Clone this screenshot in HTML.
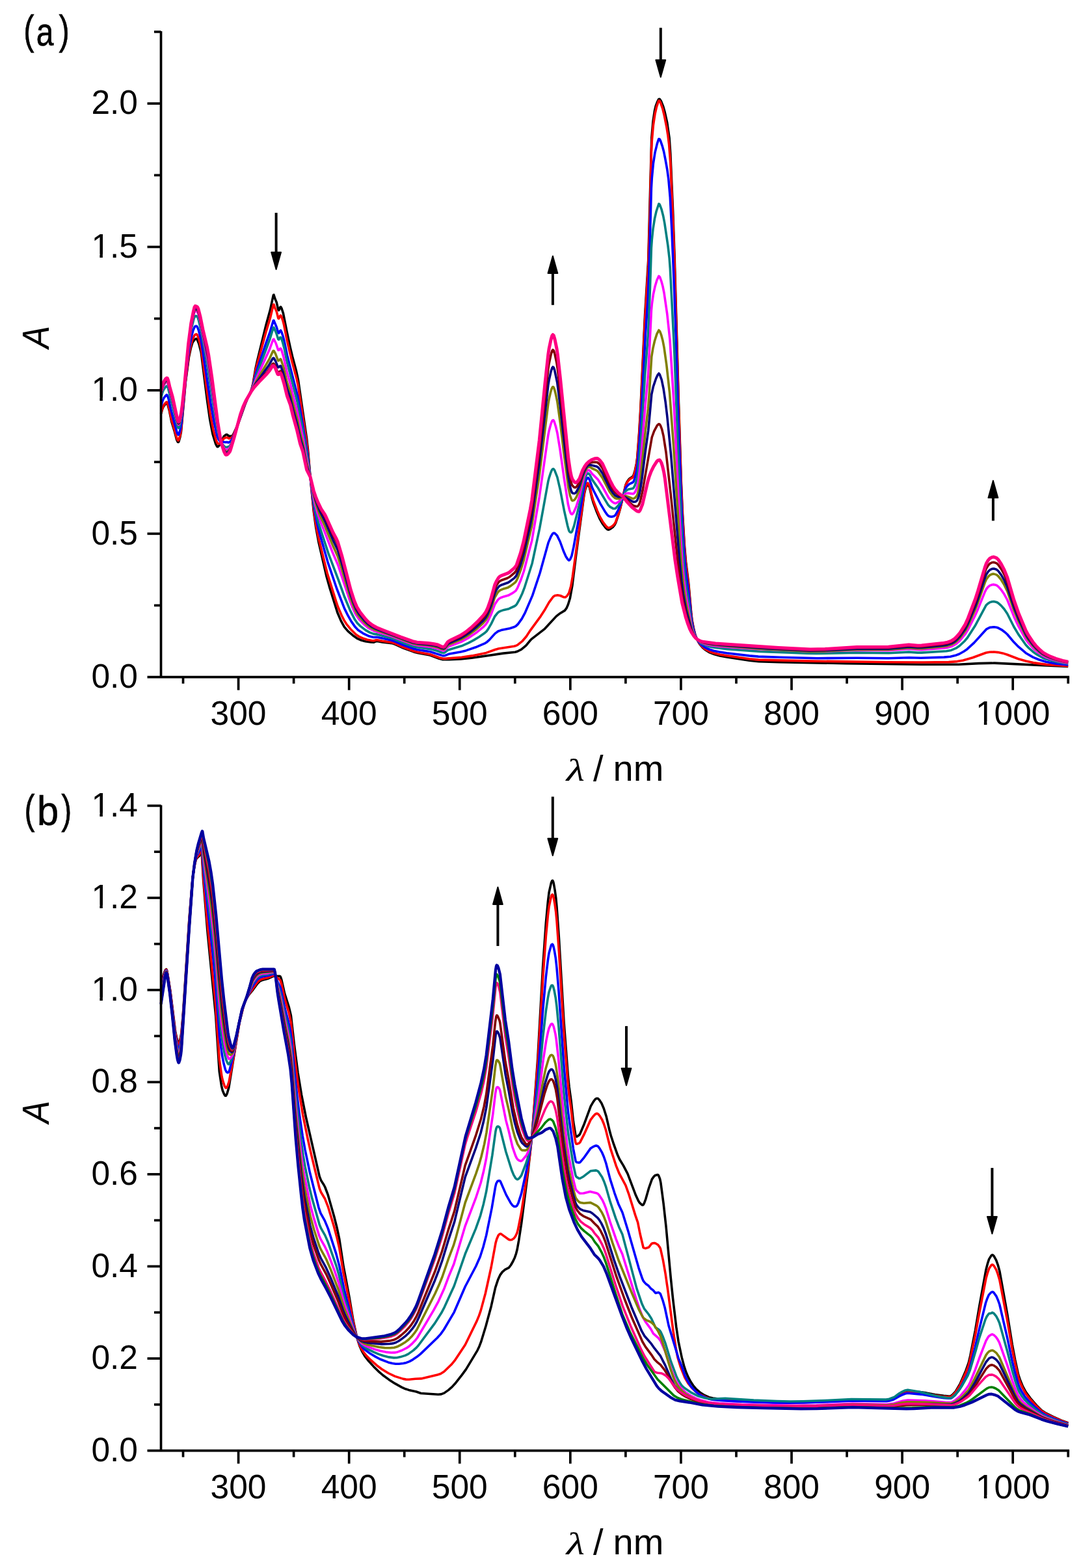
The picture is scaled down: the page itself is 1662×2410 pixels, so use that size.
<!DOCTYPE html>
<html><head><meta charset="utf-8"><style>
html,body{margin:0;padding:0;background:#fff;}
svg{display:block;}
.tl{font-family:"Liberation Sans", Arial, sans-serif;font-size:51.5px;fill:#000;}
.at{font-family:"Liberation Sans", Arial, sans-serif;font-size:56px;fill:#000;}
.lam{font-family:"Liberation Serif",serif;font-style:italic;font-size:56px;fill:#000;}
.pl{font-family:"Liberation Sans",sans-serif;font-size:60px;fill:#000;stroke:#000;stroke-width:0.6px;}
.yt{font-family:"Liberation Sans", Arial, sans-serif;font-size:56px;font-style:italic;fill:#000;}
</style></head><body>
<svg width="1662" height="2410" viewBox="0 0 1662 2410">
<rect width="1662" height="2410" fill="#fff"/>
<path d="M247.5,636.0L249.6,628.9L251.3,624.8L254.7,620.5L256.0,619.8L256.9,620.0L258.1,622.9L260.3,630.8L263.7,648.0L268.3,663.0L271.7,676.0L273.4,679.5L274.3,679.5L275.1,678.1L276.8,672.1L278.5,663.3L285.3,587.4L290.4,549.2L293.4,535.1L296.0,526.5L299.0,522.3L300.7,520.9L301.9,520.6L303.2,521.9L305.8,528.3L309.2,541.7L318.5,615.3L322.8,645.4L327.0,667.1L331.7,682.5L333.8,686.5L334.7,686.7L335.9,686.0L339.8,680.8L344.0,670.9L347.4,668.0L349.1,668.0L352.1,670.4L356.4,670.4L357.2,670.0L358.9,667.2L366.1,651.6L377.2,620.5L380.6,612.2L384.8,603.6L387.0,597.6L389.1,589.1L392.9,566.4L395.5,554.6L409.1,499.2L415.5,476.1L420.1,454.5L420.6,453.3L421.0,453.2L422.7,458.8L425.2,464.6L427.4,474.4L428.2,476.8L428.6,476.9L429.1,476.3L430.8,472.2L431.6,471.7L432.9,473.7L435.4,481.4L441.0,509.7L446.1,533.3L449.5,547.7L455.4,569.8L458.4,583.6L471.6,674.2L473.3,689.1L476.7,729.0L482.2,785.6L485.6,810.1L489.9,833.3L501.8,885.2L506.5,902.1L518.8,941.5L524.3,954.4L529.4,963.6L535.0,970.1L543.5,977.3L549.8,981.7L555.4,984.0L561.7,985.7L570.2,986.9L574.9,987.1L578.3,985.7L580.0,985.6L587.7,986.9L602.6,988.6L608.1,990.5L620.8,996.3L636.2,1001.9L643.4,1003.8L661.2,1007.0L675.3,1012.3L680.8,1013.7L690.6,1013.7L708.4,1012.9L725.0,1011.3L773.9,1004.1L792.2,1002.3L796.0,1001.0L801.6,998.1L808.8,992.2L814.8,984.8L817.7,981.8L837.7,966.3L855.1,947.4L861.1,942.7L868.3,938.4L870.9,934.9L873.4,929.3L876.4,919.5L879.8,900.5L885.8,852.3L898.1,760.0L899.8,752.4L902.3,745.1L903.2,744.1L904.0,744.3L906.6,749.8L910.0,764.9L912.1,772.3L917.7,787.3L921.9,797.1L926.2,804.7L931.3,811.4L933.8,813.7L935.1,814.1L936.4,814.0L938.9,812.7L942.3,810.0L944.9,806.8L946.6,803.7L950.8,791.2L953.8,780.8L961.9,745.4L964.0,740.8L966.6,737.0L968.3,735.3L971.7,733.3L973.4,731.6L974.6,728.8L976.3,722.9L978.5,712.5L979.7,703.7L982.7,664.5L984.8,628.6L991.6,483.9L996.7,400.7L1001.8,212.0L1004.0,186.6L1006.5,170.1L1008.2,162.8L1010.4,157.1L1012.5,152.9L1013.3,152.2L1014.2,152.2L1016.3,155.3L1019.7,163.7L1022.3,173.1L1025.7,188.4L1029.1,212.0L1030.8,236.4L1034.6,323.6L1037.1,394.3L1043.1,607.6L1047.3,740.6L1049.5,790.6L1052.5,840.0L1054.6,864.0L1058.8,897.7L1062.7,941.7L1063.9,952.5L1066.5,966.3L1069.0,976.1L1072.0,983.5L1075.8,990.0L1080.1,995.1L1083.9,998.5L1091.1,1002.9L1098.0,1005.6L1106.9,1007.9L1117.9,1009.9L1152.4,1015.2L1166.8,1016.8L1198.3,1017.8L1300.4,1019.6L1416.9,1021.2L1473.8,1021.3L1504.5,1019.6L1529.1,1019.1L1642.2,1024.5" fill="none" stroke="#000000" stroke-width="3.6" stroke-linejoin="round"/>
<path d="M247.5,635.0L250.1,626.4L251.8,622.7L255.2,618.4L256.4,617.9L257.3,618.7L260.3,628.6L263.7,645.3L268.3,660.3L271.7,673.1L273.4,676.8L274.3,676.9L275.1,675.5L276.8,669.6L278.5,660.7L285.3,585.9L290.4,546.0L293.4,530.7L296.0,521.3L299.0,515.6L300.2,514.2L301.9,513.6L302.8,514.2L303.6,515.7L305.8,521.3L309.2,534.8L323.2,635.9L327.9,660.1L332.5,677.3L334.2,681.0L335.5,681.9L336.8,681.9L339.8,680.5L343.6,674.5L345.7,673.1L348.7,672.2L352.1,674.0L354.2,673.5L356.8,672.2L358.5,669.5L364.9,654.6L376.3,622.2L380.2,612.9L384.8,603.6L387.0,598.0L389.1,590.3L392.9,570.0L395.5,559.5L409.1,509.6L415.5,488.6L420.1,469.1L420.6,468.0L421.0,468.0L422.7,473.1L425.2,478.8L427.8,489.0L428.2,489.7L428.6,489.8L430.8,485.4L431.6,484.9L432.9,487.0L435.0,493.1L436.7,499.8L441.0,521.7L444.0,534.8L449.1,556.4L455.9,581.4L458.4,593.2L472.4,685.7L480.1,763.3L483.1,789.0L486.5,810.4L490.3,829.3L503.1,881.0L516.7,924.4L519.6,932.8L525.2,945.8L529.0,953.4L532.8,959.3L539.2,967.2L547.3,975.2L552.0,978.5L559.2,981.6L564.7,983.2L571.5,984.5L574.9,984.8L578.3,983.8L580.0,983.7L587.7,985.2L602.6,987.4L608.1,989.3L620.8,995.0L636.2,1000.7L643.4,1002.6L661.2,1005.7L675.7,1011.0L680.8,1012.3L683.4,1012.4L709.7,1010.2L725.9,1007.9L747.6,1003.4L761.2,998.5L766.3,997.0L790.5,993.2L793.1,992.5L795.6,991.3L802.8,985.7L809.2,978.3L815.2,969.1L831.3,947.1L837.3,937.8L844.1,925.9L850.5,917.2L853.0,915.6L857.3,914.8L861.5,915.5L866.2,917.7L868.8,918.0L870.0,917.5L871.7,916.0L874.7,911.4L877.7,901.2L880.2,887.1L898.1,757.7L899.8,750.4L902.3,743.4L903.2,742.4L904.0,742.5L906.6,747.7L910.0,762.1L912.1,769.1L918.1,784.6L922.3,794.2L926.6,801.7L931.7,808.6L934.2,810.9L935.5,811.3L936.8,811.2L939.3,810.0L942.3,808.0L944.9,805.1L946.6,802.2L950.8,790.2L953.8,780.2L961.9,746.1L964.0,741.8L966.6,738.2L968.7,736.2L972.1,734.4L973.4,733.1L974.6,730.4L976.3,724.7L978.5,714.7L979.7,706.1L982.7,668.2L984.8,633.2L991.6,491.6L996.7,409.4L999.3,323.8L1001.4,232.9L1002.3,216.1L1004.4,192.3L1007.0,175.2L1009.5,164.2L1012.1,156.5L1012.9,154.7L1013.3,154.7L1014.2,155.3L1015.5,157.6L1018.9,167.5L1021.4,177.8L1024.8,194.9L1026.9,208.0L1028.6,221.8L1030.8,250.7L1034.6,337.1L1037.1,406.8L1043.1,615.8L1047.3,746.1L1049.5,795.5L1052.5,844.2L1054.6,867.9L1058.8,901.2L1062.2,939.2L1063.9,953.9L1066.5,967.1L1069.0,976.4L1072.0,983.4L1075.4,989.0L1079.7,993.9L1083.9,997.4L1090.7,1001.2L1097.5,1003.8L1106.5,1005.9L1117.5,1007.8L1152.0,1012.7L1166.4,1014.1L1246.4,1016.1L1363.7,1017.7L1419.0,1018.0L1458.5,1017.6L1471.7,1016.6L1480.7,1015.0L1495.5,1010.7L1515.9,1003.2L1521.5,1002.3L1527.9,1002.0L1534.2,1002.6L1543.6,1004.6L1548.7,1006.2L1565.7,1012.7L1577.2,1016.1L1588.7,1018.6L1608.6,1021.4L1642.2,1023.7" fill="none" stroke="#FF0000" stroke-width="3.6" stroke-linejoin="round"/>
<path d="M247.5,624.6L250.1,615.8L251.8,611.9L255.2,607.5L256.4,606.9L257.3,607.6L259.0,612.6L262.8,629.8L272.2,664.9L273.9,668.3L274.7,668.1L275.1,667.4L277.3,659.8L279.0,649.8L285.8,578.2L289.2,548.1L291.3,533.3L294.3,517.5L296.8,508.1L299.4,502.3L300.7,501.3L302.4,501.4L303.6,503.0L305.3,507.4L309.2,522.6L324.0,620.0L328.7,646.5L333.8,669.7L335.9,675.0L338.1,678.2L339.8,680.0L340.6,680.2L343.6,679.3L346.2,679.8L349.1,679.6L351.3,680.2L353.4,679.3L356.4,676.0L358.5,671.8L365.3,653.4L374.6,625.7L379.3,614.5L384.8,603.7L387.0,598.7L389.1,592.2L392.9,576.1L395.5,567.6L409.1,527.1L415.0,510.7L420.1,493.3L420.6,492.5L421.0,492.6L425.2,502.8L427.8,511.5L428.6,512.0L430.8,508.3L431.6,507.9L432.9,510.3L435.0,516.5L437.2,525.0L441.4,545.7L457.6,608.6L465.2,651.2L472.9,698.4L480.9,765.7L483.1,780.9L486.5,799.3L490.3,815.9L503.9,863.8L517.5,904.0L529.4,934.9L535.0,946.2L540.1,955.1L546.0,963.6L550.7,968.5L558.3,973.6L566.4,977.4L574.1,979.5L579.6,979.3L601.7,984.0L607.7,986.0L620.4,991.5L636.2,997.2L643.0,998.8L661.7,1001.7L680.8,1007.9L683.4,1007.8L689.7,1005.3L708.0,1002.0L716.5,999.9L731.4,994.8L745.9,988.6L748.8,986.7L752.2,983.6L761.2,973.6L765.8,970.3L770.5,968.6L784.1,965.7L790.1,963.8L793.1,962.4L796.5,959.1L802.4,950.9L807.5,941.3L818.6,915.4L830.1,880.7L843.2,833.6L847.1,824.5L849.6,820.3L850.9,819.4L852.2,819.4L853.9,820.4L856.4,822.9L861.1,832.5L866.6,847.6L870.0,855.2L872.6,859.3L874.3,861.1L875.6,860.9L876.8,859.3L879.0,854.2L881.9,840.9L890.9,791.4L898.1,747.5L900.6,739.0L902.8,734.7L903.6,734.2L904.5,734.5L906.6,737.6L910.4,749.2L912.6,754.0L922.8,773.8L930.8,787.3L933.4,790.9L935.5,793.0L937.6,793.9L940.6,794.2L943.6,793.6L946.1,791.8L950.4,784.2L954.6,773.5L961.9,750.4L964.0,747.3L966.6,744.7L968.3,743.6L972.9,741.5L974.2,739.8L975.5,736.8L978.0,727.5L979.7,718.3L982.7,685.5L985.3,646.9L992.1,518.8L996.3,456.6L998.0,414.1L1001.4,289.1L1002.3,273.7L1004.4,251.3L1007.0,234.7L1010.4,220.6L1012.5,214.4L1012.9,213.5L1013.3,213.5L1014.2,214.0L1015.5,216.3L1018.4,224.9L1020.6,233.0L1023.1,245.6L1025.7,260.1L1027.8,275.3L1030.3,303.6L1032.9,354.7L1036.7,446.5L1039.3,519.5L1043.1,649.3L1047.3,767.8L1049.5,813.1L1052.5,857.8L1054.6,879.8L1058.8,910.8L1062.2,944.3L1063.9,957.2L1066.1,967.2L1068.6,976.0L1071.2,981.8L1074.6,987.1L1078.8,991.5L1083.5,994.8L1090.3,998.0L1097.1,1000.2L1106.0,1002.0L1117.1,1003.7L1152.0,1007.9L1166.0,1009.1L1199.2,1010.3L1256.6,1011.7L1317.8,1011.3L1365.8,1011.7L1397.7,1010.8L1415.6,1011.3L1451.3,1010.1L1461.1,1009.2L1468.3,1007.6L1474.7,1005.3L1481.9,1001.3L1487.0,997.7L1497.7,987.9L1516.4,967.2L1521.9,964.4L1528.3,963.7L1532.1,964.2L1535.1,965.3L1539.8,967.8L1544.4,971.2L1548.7,975.0L1558.9,987.1L1565.7,993.9L1577.2,1003.7L1588.2,1010.1L1597.6,1014.0L1608.2,1017.2L1623.5,1019.9L1642.2,1022.0" fill="none" stroke="#0000FF" stroke-width="3.6" stroke-linejoin="round"/>
<path d="M247.5,611.8L249.6,603.9L251.3,599.4L254.7,594.4L256.4,593.3L257.3,593.7L258.6,597.2L265.8,625.7L272.6,654.5L273.4,656.8L274.3,657.9L274.7,657.9L275.6,656.5L278.1,646.2L279.4,637.4L288.7,544.2L292.6,515.3L294.7,503.5L298.1,489.6L299.8,485.9L301.1,485.5L302.4,486.0L304.1,488.2L305.3,491.9L309.6,510.2L319.8,568.0L330.4,637.9L333.4,655.7L335.5,665.7L338.9,677.2L341.0,681.6L345.3,686.4L346.6,687.3L347.9,687.5L351.7,686.5L353.4,685.0L354.7,683.1L358.1,675.2L370.8,635.4L374.6,624.8L378.9,615.0L385.3,602.9L388.2,596.0L393.8,578.0L414.6,522.2L420.1,504.1L420.6,503.4L421.0,503.4L424.8,511.9L427.8,521.5L428.6,521.9L430.8,518.6L431.6,518.5L432.5,519.9L434.6,526.2L437.2,536.0L441.4,556.6L457.1,617.5L465.6,661.9L473.3,706.6L482.6,773.1L485.6,788.1L489.5,803.5L504.8,850.4L520.5,891.9L529.8,917.8L538.4,938.4L545.6,952.3L549.4,957.8L554.1,962.4L562.2,968.6L568.5,972.1L574.5,974.4L579.6,974.9L602.6,981.0L620.4,988.2L632.3,992.5L638.3,994.3L662.1,997.6L672.7,1000.5L679.1,1003.0L682.1,1003.5L683.8,1002.9L688.0,999.5L689.7,998.7L711.4,992.2L720.4,988.2L728.4,983.9L736.5,979.0L745.4,972.8L748.0,970.4L750.5,966.9L755.2,958.9L760.7,947.5L765.0,942.2L767.1,940.4L769.7,939.1L774.8,937.4L782.4,935.7L791.4,931.5L793.5,929.8L794.8,928.2L799.4,919.8L802.8,912.5L806.2,903.7L818.2,865.7L829.6,812.4L842.8,739.8L844.1,734.6L846.6,726.9L848.3,722.8L849.6,721.0L850.9,720.6L852.6,722.6L856.8,733.3L861.1,751.9L867.5,785.2L872.6,808.0L874.7,815.4L876.0,817.4L877.3,818.3L878.5,818.1L879.4,817.1L882.4,808.9L890.4,776.9L898.1,739.1L900.6,731.9L901.9,729.4L903.2,727.8L904.0,727.5L904.9,727.8L907.0,729.9L910.4,737.1L918.9,749.2L934.7,775.7L937.6,778.8L942.7,781.6L944.9,781.7L946.6,781.2L951.2,776.1L954.2,771.1L960.6,756.9L961.9,754.9L964.4,753.0L966.6,751.9L972.9,750.8L974.2,749.7L975.9,746.7L978.9,737.9L980.6,728.1L983.1,703.8L985.3,677.4L991.6,577.1L996.7,511.0L999.3,447.3L1001.4,381.1L1002.3,368.3L1004.0,352.0L1006.5,336.1L1009.1,324.7L1012.9,313.3L1013.8,313.8L1014.6,315.1L1017.2,322.2L1019.7,332.0L1021.8,343.0L1026.9,377.5L1029.1,396.5L1030.3,412.5L1036.7,537.7L1043.1,705.9L1047.3,803.8L1049.5,842.0L1052.0,875.3L1054.6,898.8L1058.8,926.0L1063.5,960.3L1065.6,968.9L1067.8,975.3L1069.9,979.8L1073.3,984.6L1077.1,988.1L1082.2,990.9L1089.4,993.4L1096.7,995.0L1118.4,997.6L1169.4,1001.4L1217.0,1003.1L1240.8,1004.3L1254.9,1004.5L1316.9,1003.1L1366.3,1003.7L1397.3,1002.1L1410.9,1003.1L1416.9,1003.1L1455.1,1000.8L1462.4,999.4L1469.6,996.4L1475.1,992.7L1483.2,985.2L1487.5,980.0L1498.9,962.3L1515.9,930.6L1518.5,927.9L1521.5,925.9L1525.3,924.7L1527.9,924.5L1532.1,925.4L1534.7,926.9L1539.3,930.9L1544.0,936.3L1548.7,943.2L1558.9,963.5L1565.7,974.9L1577.2,991.2L1581.0,995.3L1588.2,1001.7L1592.5,1004.9L1597.6,1008.0L1603.5,1011.2L1608.2,1013.0L1623.5,1017.1L1642.2,1020.2" fill="none" stroke="#008080" stroke-width="3.6" stroke-linejoin="round"/>
<path d="M247.5,605.7L249.6,597.7L251.3,593.1L254.7,588.0L256.4,586.8L257.3,587.1L258.6,590.6L265.4,617.0L272.6,649.0L274.3,652.9L274.7,653.0L275.6,651.8L278.1,641.7L279.4,633.4L282.8,602.3L289.2,536.5L293.0,507.4L295.1,495.6L298.5,480.9L299.8,478.2L301.1,478.0L302.4,478.6L303.6,479.8L304.5,481.6L307.9,494.5L318.9,551.1L322.3,572.2L333.4,649.2L337.2,669.2L340.2,680.4L344.9,689.3L346.2,690.9L347.4,691.7L350.4,690.8L353.4,688.2L356.4,681.5L359.8,671.3L370.0,637.3L375.1,623.1L379.3,613.9L387.8,597.8L393.4,583.3L414.2,537.6L419.7,522.5L420.6,521.2L421.0,521.3L424.0,527.2L427.8,538.1L428.6,538.3L431.2,535.4L432.0,536.2L432.9,538.4L435.9,548.1L441.4,573.1L446.1,589.1L449.9,605.2L455.9,627.4L466.1,674.9L470.7,701.4L477.1,733.3L482.2,764.8L484.8,776.3L487.8,787.3L493.3,803.4L498.8,816.6L511.1,848.5L519.6,868.2L537.9,923.3L542.6,935.1L546.9,944.2L552.0,951.8L560.5,960.4L566.8,965.5L574.5,969.5L602.1,978.0L619.6,984.9L636.2,990.8L642.5,992.1L663.4,994.5L673.2,996.9L680.0,999.7L682.5,999.9L684.2,998.8L687.6,995.1L689.3,993.9L708.9,986.6L719.9,980.7L731.8,972.8L742.5,964.2L746.7,960.0L749.7,955.5L754.8,944.8L760.7,929.1L765.4,922.0L767.6,920.0L769.7,918.8L774.8,916.9L781.6,915.1L788.8,911.2L793.1,907.8L795.6,903.6L801.1,890.5L805.4,878.0L817.7,831.1L829.2,764.1L842.8,668.8L844.1,662.2L846.6,652.9L848.3,648.0L849.6,646.0L850.9,645.9L852.2,648.2L854.3,655.0L856.8,665.2L861.1,691.4L867.1,734.1L873.4,774.9L875.6,784.2L877.3,788.5L878.5,790.3L879.8,790.4L881.9,787.7L885.8,779.0L890.9,763.0L895.1,744.2L898.5,731.7L901.5,725.2L902.8,723.5L904.0,722.6L905.3,722.7L907.0,723.6L910.4,728.3L918.9,736.6L925.7,746.9L935.9,765.3L940.6,770.6L944.0,773.1L945.7,773.6L947.0,773.5L951.2,771.2L953.8,768.6L961.5,758.9L965.7,758.1L973.4,759.0L975.1,757.9L976.8,755.5L979.3,749.8L981.0,741.8L983.1,726.6L985.3,706.4L992.1,622.6L996.7,574.3L1001.4,477.3L1002.3,467.5L1004.4,452.5L1007.0,440.6L1009.9,430.7L1012.9,424.3L1014.6,426.1L1016.7,431.8L1018.9,439.7L1021.0,450.1L1025.7,482.2L1029.9,521.7L1036.3,623.8L1043.1,763.2L1046.5,825.3L1049.0,864.2L1051.6,892.0L1054.6,915.1L1063.5,964.4L1065.6,971.3L1068.2,977.4L1070.3,980.8L1073.3,984.3L1077.5,987.4L1083.9,989.9L1093.3,992.0L1105.2,993.5L1161.3,997.5L1217.0,999.8L1243.4,1001.3L1265.9,1001.2L1317.4,999.2L1365.8,999.7L1397.3,997.4L1410.9,998.5L1416.9,998.6L1448.8,996.3L1456.0,995.4L1462.8,993.6L1470.0,989.6L1475.5,984.8L1483.6,975.2L1487.9,968.4L1498.9,946.7L1503.6,936.2L1514.2,909.9L1516.4,905.5L1518.9,902.4L1521.5,900.2L1524.9,898.8L1527.9,898.4L1532.1,899.6L1534.7,901.4L1539.3,906.5L1544.0,913.3L1548.7,922.0L1558.9,947.7L1565.7,962.2L1577.2,982.9L1581.0,988.0L1588.2,996.1L1592.5,1000.1L1597.6,1004.0L1603.5,1008.0L1608.2,1010.3L1615.9,1013.1L1623.5,1015.3L1633.7,1017.7L1642.2,1019.1" fill="none" stroke="#FF00FF" stroke-width="3.6" stroke-linejoin="round"/>
<path d="M247.5,603.9L249.6,595.9L251.3,591.2L254.7,586.1L256.4,584.9L257.3,585.2L258.6,588.6L265.4,614.8L272.6,647.3L274.3,651.3L274.7,651.4L275.6,650.3L278.1,640.2L279.8,628.7L282.8,601.6L289.2,535.2L293.0,505.7L294.7,495.7L298.5,478.4L299.4,476.2L300.2,475.4L301.5,475.6L302.8,476.4L304.1,477.9L304.9,480.1L307.9,491.8L319.8,550.2L325.3,586.6L333.8,648.3L338.1,671.7L340.6,681.7L344.5,690.8L345.7,693.0L347.0,694.4L347.9,694.6L349.1,694.3L350.8,693.3L353.0,691.1L355.1,686.7L359.8,672.2L370.0,636.8L373.4,626.9L376.8,618.8L387.4,599.2L393.4,587.2L413.8,552.4L419.3,540.5L420.1,539.3L421.0,539.2L423.5,543.7L427.4,553.9L427.8,554.4L428.6,554.3L431.2,551.8L432.0,552.7L435.9,564.5L441.0,586.6L446.1,602.5L449.9,618.3L457.1,645.2L461.8,667.0L465.6,681.3L471.2,710.4L477.1,733.2L482.2,760.7L486.9,777.9L492.4,793.1L499.2,807.6L512.0,839.1L519.2,855.0L525.2,873.5L538.4,917.6L543.9,932.4L548.1,941.6L553.7,949.5L562.2,958.5L567.7,963.1L574.9,967.2L602.1,976.5L619.1,983.2L635.3,989.0L642.1,990.4L657.8,991.8L664.6,992.9L673.2,994.9L679.1,997.5L682.1,998.0L683.8,997.1L688.0,992.1L689.7,990.8L708.9,982.9L720.4,976.1L732.3,967.2L742.9,957.6L747.1,952.7L749.7,948.2L754.8,936.1L760.7,918.3L765.4,910.4L767.6,908.1L769.7,906.8L774.4,904.9L781.2,902.9L785.4,900.4L792.2,895.1L793.9,892.8L795.6,889.3L801.1,874.5L805.4,860.4L817.7,807.8L829.2,730.9L842.8,620.9L844.1,613.4L846.6,602.7L848.3,597.1L849.6,594.8L850.5,594.6L850.9,594.9L852.2,597.5L854.3,605.3L856.8,617.1L861.5,650.7L866.6,693.9L873.9,749.4L876.4,761.7L879.0,768.7L880.2,769.6L882.4,768.9L884.1,767.3L886.2,763.9L890.9,752.6L895.1,736.6L898.5,726.4L901.9,720.1L903.6,718.3L905.3,717.7L907.4,717.9L910.4,720.0L916.4,722.7L918.5,724.1L920.2,725.9L926.2,734.4L937.2,755.7L942.3,762.7L945.7,765.6L948.3,766.5L951.7,766.4L957.2,763.6L961.5,762.1L965.7,763.4L972.1,766.2L973.8,766.5L976.3,765.2L978.9,762.3L980.2,759.4L981.9,752.6L984.8,734.2L992.5,660.7L996.3,628.9L998.0,608.3L1001.8,548.1L1004.0,534.8L1006.5,524.0L1009.9,513.4L1012.9,507.5L1014.6,509.4L1016.7,515.0L1018.9,523.2L1021.0,534.0L1024.8,561.0L1029.5,603.5L1035.4,682.8L1046.1,849.3L1048.6,881.2L1051.2,904.6L1054.6,927.0L1063.1,965.8L1065.2,971.9L1067.8,977.3L1070.3,981.1L1073.7,984.4L1077.5,986.7L1084.3,988.8L1093.7,990.7L1106.5,992.2L1168.1,997.1L1243.8,1001.2L1266.8,1000.9L1317.4,998.4L1365.8,998.4L1397.3,995.6L1410.9,996.7L1416.9,996.7L1448.8,993.8L1456.4,992.6L1463.2,990.5L1467.5,988.0L1470.4,985.8L1476.0,980.2L1484.1,969.3L1488.3,961.4L1499.4,936.7L1503.6,925.8L1514.2,895.6L1516.4,890.6L1519.3,886.4L1521.9,883.9L1525.3,882.4L1527.9,882.1L1532.1,883.4L1534.7,885.5L1539.3,891.2L1544.0,898.9L1548.7,908.7L1558.9,937.9L1565.7,954.3L1577.2,977.7L1581.0,983.4L1588.2,992.6L1592.5,997.1L1597.6,1001.5L1603.5,1006.0L1608.2,1008.5L1615.9,1011.7L1623.5,1014.2L1633.7,1016.8L1642.2,1018.4" fill="none" stroke="#808000" stroke-width="3.6" stroke-linejoin="round"/>
<path d="M247.5,602.8L249.6,594.8L251.3,590.1L254.7,585.0L256.4,583.8L257.3,584.1L258.6,587.5L261.1,598.4L265.4,613.7L272.6,646.4L274.3,650.6L274.7,650.7L275.6,649.6L278.1,639.6L279.8,628.2L282.8,601.3L289.6,530.8L293.4,502.3L296.8,484.5L299.0,476.3L300.2,474.5L301.9,474.9L303.2,475.9L304.1,476.9L304.9,479.1L307.9,490.7L320.2,550.1L325.3,583.8L334.2,649.4L338.5,673.2L340.6,681.9L344.5,691.9L346.6,695.5L347.4,696.1L348.7,696.0L350.4,695.1L352.1,693.4L353.4,691.8L354.7,689.0L359.8,672.7L370.0,636.4L373.8,625.5L377.6,616.8L392.5,590.8L413.3,561.6L418.9,551.6L420.1,550.2L421.0,550.5L423.5,554.6L427.4,564.4L428.2,564.7L430.8,562.4L431.6,562.5L435.0,572.1L441.0,596.5L446.1,611.3L450.3,628.7L456.3,650.4L461.8,674.6L466.1,689.0L471.2,715.2L477.1,733.1L481.8,755.9L485.6,769.4L491.6,785.1L500.1,801.6L512.0,829.9L519.2,845.2L525.2,864.4L538.8,912.9L543.5,926.4L547.3,935.7L552.4,944.2L559.6,952.9L565.6,958.9L571.9,963.5L575.8,965.5L582.2,968.1L634.9,987.7L641.7,989.1L658.3,990.6L665.5,991.6L673.2,993.4L679.1,996.1L682.1,996.7L683.8,995.7L688.0,990.2L689.7,988.9L707.6,981.1L714.8,976.9L723.8,970.7L733.1,963.0L742.9,953.6L746.7,949.1L749.7,943.7L754.4,931.9L761.2,910.7L763.7,905.9L766.3,902.2L768.0,900.6L770.5,899.2L780.3,895.8L783.3,894.2L790.9,888.3L793.1,885.8L794.3,883.7L800.3,867.6L805.0,851.5L815.2,806.6L817.7,793.8L829.2,711.0L842.8,592.3L844.1,584.2L847.1,570.9L848.8,565.6L850.0,564.0L851.3,565.0L852.6,568.7L856.8,588.5L861.5,625.1L866.6,672.1L873.9,733.2L876.8,749.2L878.1,753.9L879.4,757.0L881.1,758.3L883.2,758.5L884.9,757.5L886.6,755.4L890.9,746.7L895.1,732.3L898.9,722.5L901.1,718.7L903.2,716.2L904.9,715.1L907.4,714.5L917.2,716.9L918.9,717.8L921.1,720.0L926.6,728.0L937.6,750.4L942.3,757.6L945.7,761.3L948.3,762.9L951.2,763.8L957.2,763.2L960.6,763.7L971.7,770.5L974.2,771.5L977.2,770.9L978.9,769.8L979.7,768.8L981.9,763.7L984.0,754.9L987.0,735.5L992.5,691.6L996.7,662.0L1001.8,606.1L1004.4,594.2L1008.7,581.5L1010.8,576.9L1012.5,574.5L1012.9,574.0L1014.2,575.4L1017.2,583.7L1020.1,597.4L1023.1,617.4L1025.7,639.1L1031.6,699.1L1045.2,867.1L1047.8,893.3L1050.3,913.0L1054.6,936.6L1063.1,968.2L1065.6,974.1L1068.6,979.2L1071.6,982.4L1075.4,985.3L1080.1,987.2L1087.3,988.8L1095.8,990.1L1109.0,991.5L1178.7,996.6L1245.1,1000.2L1268.0,999.7L1317.4,997.2L1365.8,997.1L1397.3,994.1L1410.9,995.3L1416.9,995.2L1448.8,992.2L1456.4,990.9L1463.2,988.6L1467.5,986.1L1470.4,983.7L1476.0,977.8L1484.1,966.2L1488.3,957.9L1499.4,931.8L1503.6,920.2L1514.2,888.2L1516.4,882.9L1519.3,878.5L1521.9,875.9L1525.3,874.3L1527.9,874.0L1532.1,875.3L1534.7,877.5L1539.3,883.6L1544.0,891.7L1548.7,902.1L1558.9,933.0L1565.7,950.3L1577.2,975.1L1581.0,981.2L1588.2,990.9L1592.5,995.6L1597.6,1000.3L1603.5,1005.0L1608.2,1007.7L1615.9,1011.0L1623.5,1013.6L1633.7,1016.3L1642.2,1018.0" fill="none" stroke="#000080" stroke-width="3.6" stroke-linejoin="round"/>
<path d="M247.5,601.4L249.6,593.3L251.3,588.6L254.7,583.4L256.4,582.2L257.3,582.4L258.6,585.8L261.1,596.7L265.4,611.8L272.6,644.9L274.3,649.1L274.7,649.3L275.6,648.3L278.1,638.2L279.8,627.1L282.8,600.7L289.6,529.5L293.4,500.5L297.3,480.2L299.0,473.7L300.2,471.8L301.9,472.3L303.6,473.6L304.9,476.4L307.9,488.1L312.1,509.0L317.7,532.6L320.2,545.2L325.3,579.0L334.7,649.9L338.9,674.7L340.6,682.1L344.5,693.4L346.6,697.4L347.4,698.1L348.3,698.1L350.0,697.2L352.1,695.0L353.4,693.3L354.7,690.3L360.2,671.7L370.0,636.1L374.2,624.1L378.5,615.0L386.1,601.8L391.2,594.1L400.2,583.5L410.8,571.6L414.6,566.7L418.9,559.6L420.1,558.8L421.0,559.1L423.1,562.2L426.1,570.1L427.4,572.4L428.2,572.6L431.2,570.3L432.5,572.4L436.7,586.3L441.4,605.7L446.5,619.7L450.3,635.5L456.7,658.8L461.4,679.1L465.6,691.9L471.2,719.1L472.4,722.8L477.1,733.1L481.8,753.7L483.9,760.9L487.3,770.4L491.2,779.4L494.1,785.3L500.5,796.0L512.0,822.3L517.1,832.1L519.2,837.0L525.6,858.2L539.2,909.3L544.3,924.6L548.1,933.8L553.2,942.2L561.3,952.2L566.4,957.5L572.8,962.1L577.0,964.4L583.4,967.1L617.4,980.4L634.9,986.6L641.7,988.0L658.3,989.4L666.3,990.5L673.2,992.1L679.5,995.0L682.1,995.4L683.8,994.3L688.0,988.5L689.7,987.0L693.6,985.0L707.6,978.8L715.2,974.1L724.2,967.4L733.5,959.2L743.3,949.3L747.1,944.3L750.1,938.2L754.4,926.7L760.7,905.2L763.3,899.8L766.3,895.2L768.0,893.5L770.5,892.0L780.3,888.5L783.3,886.8L790.9,880.5L793.1,877.9L794.3,875.7L800.3,858.7L805.0,841.7L815.2,794.5L817.7,781.0L829.2,693.3L842.8,567.3L844.1,558.8L847.1,544.9L848.8,539.3L850.0,537.7L851.3,538.8L853.0,544.3L856.0,558.4L857.7,569.7L874.7,724.5L878.5,743.0L879.8,746.1L882.4,748.7L884.1,749.3L885.3,749.0L887.0,747.4L888.7,744.8L891.3,739.9L894.7,729.2L897.2,723.0L899.8,718.1L902.3,714.5L904.9,712.3L907.4,711.0L914.7,710.2L918.1,710.5L921.1,712.7L925.7,718.8L937.6,743.8L942.3,752.0L945.7,756.5L950.8,760.6L956.4,762.5L958.5,763.7L968.7,773.1L973.4,776.8L975.1,777.6L978.0,778.4L979.3,778.5L980.6,777.8L982.3,775.8L984.0,771.6L987.8,755.2L1002.3,672.0L1005.7,662.7L1010.4,653.9L1012.9,651.7L1014.2,652.2L1015.5,654.2L1017.6,659.6L1020.1,670.2L1024.0,695.1L1031.2,759.4L1042.2,864.4L1046.9,903.0L1049.9,922.2L1054.6,943.9L1058.4,956.8L1062.2,968.1L1065.2,974.3L1068.2,979.0L1070.7,981.7L1074.6,984.5L1078.4,986.2L1084.8,987.8L1093.3,989.0L1105.6,990.2L1189.4,996.1L1245.9,999.1L1268.5,998.6L1317.4,995.8L1365.8,995.6L1397.3,992.4L1410.9,993.6L1416.9,993.6L1449.2,990.2L1456.8,988.8L1463.6,986.2L1467.5,983.7L1470.4,981.2L1476.0,974.9L1484.1,962.6L1488.3,953.8L1499.4,925.9L1503.6,913.6L1514.2,879.4L1516.4,873.7L1519.3,869.0L1521.9,866.2L1525.3,864.5L1527.9,864.2L1532.1,865.6L1534.7,868.0L1539.3,874.4L1544.0,883.0L1548.7,894.2L1558.9,927.1L1565.7,945.5L1577.2,971.9L1581.0,978.4L1588.2,988.8L1592.5,993.9L1597.6,998.8L1603.5,1003.8L1608.2,1006.6L1615.9,1010.1L1623.5,1012.9L1633.7,1015.8L1642.2,1017.6" fill="none" stroke="#800000" stroke-width="3.6" stroke-linejoin="round"/>
<path d="M247.5,600.3L249.6,592.2L251.3,587.5L254.7,582.2L256.0,581.2L256.9,580.9L257.3,581.2L258.6,584.6L260.7,593.9L265.4,610.5L272.6,643.8L274.3,648.2L274.7,648.4L275.6,647.4L278.5,635.2L280.2,623.0L283.2,596.0L289.6,528.7L293.8,496.7L297.3,478.9L299.0,472.2L300.2,470.3L301.9,470.8L303.6,472.1L304.9,474.9L307.9,486.6L312.1,507.3L318.5,534.1L320.6,545.1L325.7,579.6L334.7,648.8L338.9,674.5L340.6,682.2L344.5,694.1L346.6,698.3L347.4,699.0L348.3,699.0L349.6,698.4L351.3,696.8L353.4,694.0L354.2,692.1L360.2,671.9L369.5,637.3L373.8,625.0L378.5,614.9L386.1,601.9L390.8,595.2L400.2,584.9L410.4,574.5L414.6,569.4L418.9,562.7L420.1,562.0L421.0,562.4L423.1,565.3L426.9,575.0L427.4,575.5L428.2,575.6L431.2,573.5L432.5,575.5L436.7,589.5L441.4,608.7L446.5,622.5L450.3,638.3L456.7,661.6L461.4,681.7L465.6,694.0L471.6,722.2L477.1,733.1L482.2,754.2L485.2,763.1L488.6,771.6L493.7,782.1L498.8,789.8L500.9,793.7L512.0,818.5L517.1,828.0L519.2,832.8L525.6,854.2L539.2,906.6L544.7,923.6L548.6,932.7L553.7,941.0L562.2,951.8L566.8,956.6L573.2,961.3L579.2,964.5L590.2,969.0L616.2,979.2L634.5,985.7L641.3,987.2L658.7,988.5L667.2,989.7L673.2,991.0L679.5,993.9L682.1,994.4L683.8,993.3L688.0,987.1L689.7,985.6L693.6,983.4L707.6,976.8L715.7,971.6L724.6,964.5L733.5,956.2L743.3,945.6L747.1,940.3L750.1,933.9L754.4,921.7L760.7,898.9L763.3,893.2L766.3,888.2L768.0,886.4L770.5,884.8L780.3,881.2L783.3,879.5L790.9,872.9L793.1,870.2L794.3,867.9L800.3,850.1L805.0,832.4L815.2,783.2L817.7,769.1L829.2,677.0L838.1,587.8L842.8,544.9L844.1,536.1L847.1,521.7L848.8,516.0L850.0,514.4L851.3,515.8L853.0,521.4L856.0,536.0L857.3,544.6L861.5,582.2L873.9,704.9L876.8,724.3L878.5,732.2L879.8,736.1L881.9,739.4L883.6,741.2L885.3,741.8L886.6,741.3L888.3,739.5L890.9,735.8L895.5,723.3L898.9,717.0L901.9,712.8L905.3,709.5L908.7,707.2L915.1,704.7L917.7,704.4L918.9,704.6L921.9,707.1L926.2,712.6L938.1,738.8L942.3,747.0L945.7,752.2L950.8,757.8L957.6,763.0L964.4,771.9L972.1,780.0L978.9,785.2L980.6,786.1L982.3,786.3L983.1,785.6L984.4,783.6L987.8,775.0L995.9,740.3L998.0,733.0L1001.0,724.9L1004.8,717.1L1009.9,709.1L1011.2,707.9L1013.3,707.0L1014.2,707.1L1015.0,708.0L1016.7,710.9L1018.4,716.1L1020.6,725.1L1022.3,735.3L1038.0,861.4L1041.8,886.4L1048.6,926.1L1054.2,948.4L1057.6,958.9L1060.5,966.7L1063.5,972.5L1066.9,977.7L1069.5,980.7L1073.3,983.6L1076.7,985.3L1081.8,986.6L1100.1,988.9L1196.6,995.4L1245.9,998.1L1268.5,997.5L1317.4,994.5L1365.8,994.3L1397.3,990.9L1410.9,992.2L1416.9,992.1L1449.2,988.6L1456.8,987.1L1461.1,985.7L1463.6,984.4L1467.5,981.8L1470.4,979.1L1476.0,972.5L1484.1,959.6L1488.3,950.2L1499.4,921.0L1503.6,908.0L1514.2,872.1L1516.4,866.1L1519.3,861.1L1521.9,858.2L1525.3,856.4L1527.9,856.0L1532.1,857.6L1534.7,860.0L1539.3,866.8L1544.0,875.9L1548.7,887.5L1558.9,922.2L1565.7,941.6L1577.2,969.3L1581.0,976.2L1588.2,987.0L1592.5,992.4L1597.6,997.5L1603.5,1002.8L1608.2,1005.7L1615.9,1009.4L1623.5,1012.4L1633.7,1015.4L1642.2,1017.2" fill="none" stroke="#FF0080" stroke-width="5.0" stroke-linejoin="round"/>
<path d="M247.5,1521.6L249.2,1509.0L250.9,1500.4L253.0,1493.7L254.3,1490.9L255.6,1489.7L256.4,1491.0L257.7,1497.0L262.0,1523.9L269.6,1585.3L271.7,1595.5L273.4,1601.4L274.3,1602.8L275.1,1602.8L276.4,1599.8L278.1,1592.4L279.0,1586.5L281.5,1557.0L290.9,1412.8L296.0,1351.3L299.0,1331.2L301.1,1321.7L302.4,1319.3L306.2,1315.8L308.3,1310.8L309.6,1309.2L310.4,1315.3L312.6,1352.6L318.9,1431.2L331.7,1561.2L337.2,1646.7L340.6,1669.4L342.3,1676.2L344.0,1680.4L345.7,1683.6L346.6,1684.3L347.4,1684.3L349.1,1681.0L351.7,1672.1L367.8,1573.2L373.4,1550.2L375.9,1542.0L378.0,1536.6L382.7,1528.9L389.1,1521.0L395.9,1511.7L399.7,1507.9L403.6,1506.3L412.5,1503.9L419.7,1500.5L429.9,1500.4L430.8,1500.7L431.6,1502.1L432.9,1506.1L437.6,1527.1L444.4,1548.4L447.4,1561.2L452.5,1606.5L458.0,1648.7L463.5,1682.3L470.3,1716.7L491.2,1808.1L493.7,1814.6L498.0,1821.2L499.7,1824.5L504.3,1836.7L513.7,1869.8L517.9,1886.4L521.8,1904.7L528.1,1946.4L537.1,1994.1L543.0,2029.2L548.6,2055.1L552.8,2068.5L556.6,2077.1L560.9,2084.3L566.0,2091.0L574.5,2100.4L581.7,2107.6L588.5,2113.5L597.9,2120.4L607.2,2126.4L617.4,2132.1L623.4,2134.8L628.5,2136.4L640.0,2139.0L647.2,2141.5L673.6,2143.2L678.3,2142.9L682.9,2141.1L689.3,2136.6L694.8,2131.9L699.5,2126.8L710.1,2113.4L716.5,2104.6L734.0,2075.6L736.9,2069.4L739.5,2062.7L747.1,2037.7L755.2,2007.7L761.6,1979.1L765.8,1966.4L768.8,1959.9L772.2,1955.1L776.5,1951.4L782.4,1948.3L785.4,1944.5L788.8,1938.5L791.4,1932.9L793.5,1926.8L795.2,1920.3L797.7,1906.3L801.6,1880.7L811.8,1801.2L817.3,1751.4L819.4,1726.6L826.7,1627.7L834.7,1484.8L839.4,1418.1L842.4,1385.7L844.1,1371.7L847.5,1356.7L848.8,1353.8L849.6,1353.4L850.5,1354.9L851.3,1358.0L853.0,1367.5L854.7,1379.7L856.0,1393.9L859.4,1441.6L867.1,1571.9L873.4,1654.3L875.1,1670.4L878.1,1692.2L881.5,1723.9L884.9,1744.8L885.8,1746.9L887.0,1746.9L890.4,1744.6L891.7,1742.9L897.7,1728.8L908.3,1700.2L912.1,1693.6L914.7,1690.0L916.8,1688.3L918.9,1688.2L921.1,1690.1L924.9,1695.8L928.3,1703.7L932.1,1715.7L937.2,1737.8L939.3,1745.5L943.6,1758.7L949.5,1775.1L952.5,1781.7L958.5,1791.6L964.9,1803.9L977.6,1837.3L981.4,1845.5L983.6,1848.9L987.0,1851.9L988.2,1852.2L989.1,1851.7L990.4,1849.3L992.9,1842.6L997.6,1826.0L1002.3,1812.6L1005.3,1808.3L1007.4,1806.4L1011.2,1805.5L1012.1,1806.0L1012.9,1807.5L1014.6,1811.9L1015.9,1817.9L1020.1,1849.7L1024.0,1884.9L1031.2,1963.3L1034.6,1996.3L1039.7,2039.2L1043.1,2062.1L1048.2,2086.4L1051.6,2099.2L1054.6,2108.5L1058.0,2116.4L1061.8,2123.6L1065.6,2129.3L1070.7,2135.3L1076.3,2140.2L1083.5,2144.7L1090.3,2147.7L1096.2,2149.1L1109.0,2150.6L1138.3,2152.5L1197.9,2155.0L1217.4,2155.3L1237.4,2154.9L1271.4,2153.7L1310.1,2151.8L1362.9,2152.4L1367.5,2151.5L1373.9,2149.4L1382.4,2143.9L1388.8,2140.6L1392.6,2138.9L1396.0,2138.3L1404.5,2138.6L1416.4,2139.7L1424.1,2140.9L1437.7,2143.6L1450.9,2145.4L1458.5,2146.0L1461.9,2145.8L1464.5,2143.8L1469.2,2138.6L1476.0,2127.2L1484.9,2106.6L1489.2,2094.7L1491.7,2084.2L1499.4,2045.1L1505.7,2007.7L1515.9,1951.7L1518.5,1941.8L1520.6,1935.4L1524.0,1929.9L1525.3,1928.8L1526.2,1928.7L1528.3,1930.8L1531.7,1937.1L1534.2,1944.1L1536.8,1953.4L1548.7,2019.8L1556.3,2066.8L1560.6,2089.6L1565.7,2112.8L1568.7,2121.7L1572.5,2130.9L1577.2,2139.6L1584.0,2148.9L1594.6,2161.1L1601.4,2167.7L1608.2,2172.2L1619.3,2177.7L1631.6,2183.2L1642.2,2187.0" fill="none" stroke="#000000" stroke-width="3.6" stroke-linejoin="round"/>
<path d="M247.5,1523.8L249.6,1508.7L251.8,1499.4L253.5,1493.7L254.7,1491.0L255.6,1490.3L256.4,1491.5L257.7,1497.6L262.0,1524.9L269.6,1587.4L271.7,1598.1L273.4,1604.4L274.7,1606.1L275.6,1605.2L276.4,1602.7L278.5,1592.6L280.7,1569.4L283.2,1534.6L290.9,1414.3L296.0,1351.5L298.5,1333.3L301.1,1320.9L302.4,1318.0L306.2,1313.4L308.3,1308.3L309.6,1306.4L310.4,1311.6L313.0,1351.3L318.5,1414.7L331.3,1540.2L337.2,1628.2L341.0,1654.8L342.8,1661.9L345.3,1669.3L347.0,1672.0L347.4,1672.2L348.3,1671.8L350.0,1668.8L352.1,1662.7L361.5,1612.2L368.3,1570.9L374.2,1547.0L376.8,1539.6L379.7,1533.1L383.6,1526.8L393.8,1512.2L397.2,1508.2L400.2,1505.8L403.6,1504.5L412.5,1502.4L418.9,1499.6L421.4,1499.2L423.1,1499.8L426.5,1503.1L430.8,1506.4L432.9,1512.6L438.0,1536.1L444.4,1557.6L447.4,1571.6L453.3,1627.6L458.8,1671.2L465.6,1713.5L472.9,1749.2L478.4,1773.8L491.2,1826.5L493.7,1832.8L499.7,1842.8L504.3,1854.6L513.3,1884.5L517.9,1901.7L521.8,1918.7L528.1,1956.9L537.1,2000.3L542.6,2029.8L547.7,2051.9L551.5,2064.0L554.9,2071.5L558.8,2078.0L563.4,2083.9L569.8,2090.2L578.8,2098.2L586.8,2104.3L597.0,2110.5L607.2,2115.4L620.0,2119.4L624.2,2120.1L628.9,2120.2L638.7,2119.2L647.6,2118.9L672.7,2112.9L677.4,2111.5L682.9,2108.0L694.0,2097.3L699.1,2091.2L715.2,2067.0L733.1,2030.4L736.5,2022.1L739.1,2014.6L746.3,1988.0L755.2,1947.5L762.0,1910.6L763.7,1904.5L766.3,1898.5L768.4,1896.5L770.1,1896.4L782.0,1905.0L784.1,1905.7L786.7,1905.5L789.7,1903.8L792.2,1900.7L794.8,1895.4L796.5,1889.3L801.6,1863.4L810.5,1805.1L814.8,1773.4L817.7,1747.1L827.1,1631.0L834.7,1502.7L839.4,1438.7L842.4,1407.1L844.1,1393.3L847.5,1377.7L848.3,1375.6L849.2,1374.9L849.6,1375.0L850.5,1376.6L851.3,1379.9L853.0,1389.5L854.7,1401.8L856.0,1415.7L859.4,1462.6L867.1,1589.1L873.4,1668.7L875.1,1684.2L878.1,1705.4L881.5,1735.7L884.9,1755.9L885.8,1758.1L887.0,1758.3L890.4,1757.1L891.7,1755.8L897.7,1744.2L907.9,1721.4L912.6,1715.2L915.1,1712.5L917.7,1711.3L919.8,1712.3L922.3,1715.4L925.7,1721.0L928.3,1727.2L931.3,1736.2L938.5,1765.1L947.4,1792.1L952.1,1803.7L961.9,1821.8L966.6,1834.8L976.8,1867.9L980.6,1878.9L984.0,1896.0L989.1,1917.5L990.4,1918.3L992.9,1918.6L997.6,1917.0L1001.8,1911.5L1004.0,1910.7L1006.1,1910.5L1007.8,1911.0L1011.6,1913.3L1014.6,1917.4L1015.5,1919.5L1019.3,1936.3L1023.1,1957.8L1026.9,1984.0L1035.0,2045.6L1038.8,2069.8L1041.8,2085.9L1046.5,2101.4L1052.9,2117.3L1058.0,2126.1L1063.9,2133.5L1070.3,2139.3L1075.8,2143.2L1086.0,2148.0L1092.8,2150.2L1110.7,2152.1L1157.9,2154.5L1197.5,2155.6L1221.7,2155.7L1269.3,2154.4L1309.3,2152.4L1362.9,2153.1L1367.5,2152.3L1373.9,2150.4L1382.4,2145.2L1388.8,2142.1L1392.6,2140.5L1396.0,2139.9L1413.9,2141.0L1448.3,2146.3L1457.3,2147.1L1461.9,2147.0L1464.5,2145.1L1469.2,2140.2L1476.0,2129.5L1484.9,2110.1L1489.2,2099.0L1491.7,2089.1L1499.4,2052.5L1505.3,2019.7L1515.9,1965.1L1518.5,1955.8L1520.6,1949.8L1524.0,1944.8L1525.3,1943.8L1526.2,1943.8L1528.3,1945.8L1531.7,1951.7L1534.2,1958.5L1536.8,1967.2L1548.7,2029.7L1556.3,2073.8L1560.6,2095.2L1565.7,2117.0L1568.2,2124.2L1572.1,2133.0L1576.3,2140.8L1582.7,2149.3L1590.8,2158.5L1601.4,2168.7L1608.2,2173.1L1619.3,2178.4L1631.6,2183.7L1642.2,2187.5" fill="none" stroke="#FF0000" stroke-width="3.6" stroke-linejoin="round"/>
<path d="M247.5,1528.2L250.1,1510.9L253.0,1497.6L254.3,1493.3L255.2,1491.7L255.6,1491.5L256.0,1491.7L256.4,1492.7L257.7,1498.8L262.0,1526.9L269.6,1591.8L272.2,1605.5L273.4,1610.4L274.7,1612.3L275.6,1611.3L276.4,1608.8L278.5,1598.2L279.8,1584.5L283.2,1537.0L290.9,1417.4L294.3,1371.4L296.4,1348.1L299.0,1330.0L301.5,1317.8L302.8,1314.6L306.2,1308.5L309.2,1301.2L309.6,1300.5L310.0,1301.1L310.9,1308.1L313.0,1336.6L316.0,1366.5L326.6,1460.1L330.4,1497.3L337.6,1593.1L341.5,1622.2L344.0,1634.8L346.6,1644.3L348.3,1647.7L350.0,1648.6L351.7,1647.6L353.0,1644.4L359.3,1619.9L367.4,1574.4L372.1,1553.8L374.6,1545.3L377.2,1538.4L387.0,1517.8L394.2,1507.1L397.2,1504.1L399.7,1502.3L403.6,1501.0L412.9,1499.2L419.3,1497.1L421.8,1497.0L422.7,1498.0L426.5,1508.3L430.3,1516.1L431.6,1519.8L438.0,1549.8L443.1,1569.2L446.1,1582.8L448.2,1597.3L452.5,1644.6L456.7,1683.8L460.5,1713.9L465.2,1745.7L469.0,1767.0L476.3,1801.8L489.9,1855.8L492.9,1864.6L499.2,1875.9L504.3,1888.1L516.7,1926.6L521.8,1945.9L529.0,1981.2L542.2,2033.9L546.0,2047.4L549.4,2057.2L551.5,2061.8L554.5,2066.9L557.5,2070.9L560.5,2074.0L568.5,2080.0L577.5,2085.4L584.3,2089.0L597.0,2093.9L603.4,2095.5L608.1,2096.2L613.6,2096.2L620.0,2095.5L624.7,2094.4L629.4,2092.6L634.5,2089.8L640.8,2085.6L646.4,2081.1L672.3,2056.3L677.4,2050.6L682.5,2043.5L698.2,2016.8L715.2,1977.5L731.8,1946.0L738.2,1931.5L742.9,1916.7L747.6,1898.9L756.1,1857.0L761.6,1824.4L762.9,1819.1L764.6,1816.0L765.8,1815.0L767.1,1814.7L768.4,1814.9L769.3,1815.8L778.2,1836.4L785.0,1848.7L788.0,1852.8L790.5,1854.4L793.1,1854.4L794.8,1853.2L796.9,1849.1L801.6,1834.4L810.1,1795.6L813.9,1773.9L817.3,1750.6L819.4,1732.5L827.1,1654.0L834.7,1551.8L839.4,1500.7L842.4,1475.6L844.1,1464.7L847.1,1453.9L847.9,1452.0L849.2,1451.2L850.0,1452.0L850.9,1454.4L852.6,1462.4L854.3,1472.5L856.0,1487.8L859.0,1523.4L867.1,1639.7L873.4,1708.3L881.5,1766.0L884.9,1783.6L885.8,1785.7L887.0,1786.5L890.0,1787.1L891.7,1786.6L897.2,1780.2L907.9,1765.1L911.7,1762.7L915.1,1761.1L917.2,1760.9L919.4,1761.9L921.9,1765.1L925.3,1770.8L928.3,1777.7L931.7,1787.8L938.1,1812.4L944.9,1833.8L950.8,1850.4L956.8,1863.3L958.1,1867.2L965.7,1892.0L981.9,1948.6L987.4,1964.8L989.1,1968.7L990.8,1970.9L993.3,1973.6L997.2,1976.3L1001.0,1980.8L1004.0,1982.9L1007.8,1987.4L1012.1,1986.4L1014.2,1987.5L1015.5,1989.0L1018.9,1998.3L1022.3,2010.3L1028.2,2038.1L1043.1,2087.6L1048.6,2101.2L1052.9,2113.7L1055.9,2120.3L1062.2,2130.7L1069.9,2139.0L1075.0,2143.1L1080.9,2146.5L1088.6,2149.7L1095.0,2151.2L1107.7,2152.5L1132.4,2153.9L1187.7,2155.9L1211.5,2156.3L1236.1,2156.0L1270.2,2154.8L1311.0,2152.9L1362.9,2153.6L1367.5,2152.9L1373.9,2151.0L1382.4,2146.1L1387.1,2143.8L1391.8,2142.0L1395.6,2141.3L1416.4,2143.1L1437.7,2146.8L1451.3,2148.7L1458.5,2149.3L1461.9,2149.2L1464.5,2147.7L1468.7,2143.9L1476.0,2134.4L1485.3,2117.2L1489.2,2108.7L1491.7,2100.6L1499.4,2070.5L1505.3,2044.2L1515.5,2002.5L1518.1,1995.2L1520.2,1990.4L1523.6,1986.6L1525.7,1985.5L1526.6,1985.7L1527.9,1986.7L1531.7,1992.1L1534.2,1997.7L1536.8,2005.0L1548.7,2056.3L1556.3,2092.4L1560.6,2110.1L1565.7,2127.9L1568.2,2133.9L1571.7,2140.3L1575.9,2146.9L1581.0,2152.8L1590.4,2162.0L1601.4,2171.4L1608.6,2175.5L1619.3,2180.2L1631.6,2185.0L1642.2,2188.5" fill="none" stroke="#0000FF" stroke-width="3.6" stroke-linejoin="round"/>
<path d="M247.5,1531.5L250.1,1514.3L253.5,1497.7L255.2,1492.6L255.6,1492.3L256.0,1492.6L256.4,1493.6L257.7,1499.7L261.5,1525.2L269.6,1594.9L272.2,1609.6L273.4,1614.8L274.7,1616.8L275.6,1615.9L276.4,1613.3L278.5,1602.4L279.8,1587.8L290.9,1419.7L296.4,1348.2L299.0,1329.4L301.5,1316.4L302.8,1312.5L309.2,1297.2L309.6,1296.3L310.0,1296.4L310.9,1301.4L312.6,1321.8L314.7,1341.3L325.7,1430.0L329.1,1460.8L332.1,1492.4L336.8,1556.6L338.9,1577.3L342.8,1605.8L345.7,1621.5L347.9,1629.5L350.0,1634.3L351.3,1635.8L352.1,1635.7L354.2,1632.1L357.6,1623.6L361.5,1607.0L367.8,1571.8L372.5,1551.7L376.8,1539.4L388.2,1512.3L394.2,1504.0L397.2,1501.3L399.7,1499.7L403.1,1498.6L412.5,1497.2L419.3,1495.5L421.4,1495.3L422.3,1496.0L423.5,1499.6L426.5,1511.9L431.6,1528.0L437.6,1557.6L443.1,1580.7L446.1,1595.5L448.2,1611.1L452.5,1662.0L455.9,1696.0L463.1,1755.5L466.1,1775.8L469.0,1792.6L475.4,1823.8L479.7,1841.6L491.2,1882.3L493.7,1888.2L499.7,1898.6L503.9,1908.2L516.7,1944.6L521.3,1960.3L527.3,1986.1L529.8,1995.7L542.6,2038.8L547.3,2052.0L551.5,2060.6L554.5,2064.9L557.5,2068.2L563.4,2072.6L574.1,2077.9L582.2,2081.4L589.4,2083.8L597.9,2085.9L605.5,2086.9L610.2,2086.7L615.7,2085.6L623.0,2083.4L627.7,2081.1L635.7,2075.4L640.4,2071.1L643.4,2067.8L668.5,2033.9L678.7,2017.8L683.4,2008.8L698.2,1976.5L715.2,1927.3L731.4,1888.6L738.6,1868.3L743.3,1850.9L747.6,1831.7L756.9,1775.3L762.0,1738.6L762.9,1734.6L764.1,1731.9L765.0,1731.3L766.3,1731.3L768.0,1732.8L768.8,1734.5L777.8,1770.2L786.7,1798.5L789.7,1805.9L792.6,1810.7L793.9,1812.0L795.2,1812.7L796.5,1812.4L798.2,1811.1L801.6,1806.7L808.8,1787.9L810.9,1781.2L814.8,1763.9L817.7,1747.6L827.1,1674.5L834.7,1594.2L839.4,1553.5L842.4,1533.5L844.1,1524.7L846.6,1517.1L847.9,1514.7L848.8,1514.3L849.6,1514.7L850.5,1516.3L852.2,1522.8L854.3,1533.9L856.0,1547.3L859.0,1579.0L867.1,1681.1L873.4,1740.6L881.5,1790.7L884.9,1806.1L885.8,1808.2L887.0,1809.4L890.0,1811.1L891.7,1811.3L897.2,1808.2L907.9,1799.8L916.4,1798.9L918.5,1799.6L920.2,1801.0L925.7,1809.3L928.7,1816.0L931.7,1824.4L938.1,1846.9L946.6,1872.4L951.7,1885.9L956.8,1896.9L978.9,1980.4L987.0,2004.1L990.4,2011.3L997.2,2020.0L1001.4,2026.4L1007.8,2040.4L1012.5,2043.2L1014.6,2045.3L1015.9,2047.2L1019.3,2054.8L1022.7,2063.8L1031.6,2093.0L1039.7,2114.7L1042.7,2121.0L1046.1,2126.6L1048.6,2130.2L1052.5,2133.5L1062.2,2140.1L1073.7,2145.8L1083.9,2148.8L1093.7,2150.3L1115.0,2149.3L1158.8,2152.1L1194.5,2153.5L1215.3,2154.0L1234.0,2153.7L1269.7,2152.5L1308.9,2150.5L1362.4,2151.1L1367.1,2150.3L1373.9,2147.8L1376.5,2146.3L1382.4,2141.8L1387.1,2139.1L1391.8,2137.0L1395.6,2136.4L1413.9,2139.3L1436.9,2145.0L1446.6,2146.9L1455.6,2148.4L1461.5,2148.8L1463.6,2147.9L1467.9,2144.5L1473.4,2138.1L1478.5,2130.8L1487.9,2114.4L1491.3,2106.0L1500.6,2074.6L1505.3,2057.5L1515.1,2027.7L1517.2,2023.4L1519.8,2019.7L1521.0,2018.8L1523.2,2018.6L1525.7,2017.4L1527.9,2018.5L1531.7,2023.1L1534.2,2027.8L1536.8,2033.9L1548.7,2076.8L1556.3,2106.8L1560.6,2121.6L1565.3,2135.4L1567.8,2140.6L1571.2,2146.0L1575.5,2151.6L1580.2,2156.3L1590.4,2165.1L1601.8,2173.7L1609.1,2177.4L1620.1,2181.9L1631.6,2186.1L1642.2,2189.3" fill="none" stroke="#008080" stroke-width="3.6" stroke-linejoin="round"/>
<path d="M247.5,1533.7L250.1,1516.6L253.5,1498.8L255.2,1493.2L255.6,1492.9L256.0,1493.1L256.4,1494.1L257.7,1500.4L261.5,1526.1L264.9,1554.4L268.3,1587.6L270.9,1605.0L272.6,1614.4L273.9,1619.0L274.7,1620.0L275.1,1619.7L276.4,1616.4L278.1,1608.2L279.4,1595.9L290.9,1421.3L296.4,1348.3L299.0,1329.0L301.5,1315.4L303.6,1308.7L309.6,1293.3L310.0,1293.1L310.9,1296.7L313.8,1325.6L324.9,1407.3L328.3,1435.9L332.1,1475.0L336.8,1536.6L340.6,1573.3L345.3,1604.6L347.4,1615.0L349.6,1622.8L351.3,1626.8L351.7,1627.4L352.5,1627.5L353.8,1626.8L355.5,1624.8L358.1,1619.8L360.6,1609.5L367.4,1573.5L372.1,1552.9L375.5,1542.5L388.7,1509.2L394.2,1501.6L396.8,1499.4L399.7,1497.7L403.1,1496.7L412.5,1495.6L419.3,1494.2L421.4,1494.1L422.3,1495.0L423.5,1499.5L426.5,1514.8L432.0,1536.3L438.0,1567.2L444.0,1593.8L446.5,1608.3L448.6,1626.7L452.5,1675.8L455.0,1703.1L458.4,1735.5L462.7,1771.0L465.6,1793.0L468.2,1808.5L477.5,1853.8L482.6,1872.6L490.7,1899.1L493.3,1905.2L499.2,1915.5L503.1,1923.6L514.1,1952.3L520.9,1972.3L529.0,2002.2L543.5,2043.7L547.7,2053.4L551.5,2059.6L556.6,2065.2L562.6,2068.9L575.3,2073.6L584.3,2076.3L593.2,2078.1L601.3,2079.0L606.8,2078.9L611.5,2077.9L617.9,2075.5L625.1,2071.9L629.4,2068.9L634.0,2064.8L638.3,2060.3L641.7,2056.0L666.8,2013.7L674.0,2000.3L682.5,1981.6L689.7,1962.4L697.8,1942.8L715.2,1884.3L731.4,1841.7L739.1,1818.2L743.7,1799.5L747.6,1780.7L757.8,1712.6L761.6,1680.8L762.9,1673.6L763.7,1671.5L765.0,1670.9L766.3,1671.5L768.0,1674.0L768.8,1676.3L777.8,1721.6L782.0,1737.6L788.0,1763.1L792.6,1776.4L794.3,1779.9L796.0,1782.2L798.2,1783.7L800.7,1784.6L802.8,1783.6L809.6,1775.4L811.8,1770.5L814.3,1761.7L817.3,1749.7L819.4,1739.2L827.1,1692.4L835.2,1629.3L839.8,1599.5L842.4,1586.8L844.1,1580.3L846.6,1574.9L848.3,1573.5L849.2,1573.8L850.0,1574.8L851.3,1578.2L853.9,1589.2L855.1,1596.7L858.5,1626.3L866.6,1715.5L871.7,1758.2L875.1,1780.7L881.5,1813.5L884.9,1826.9L885.8,1828.9L887.5,1830.9L890.4,1833.5L892.1,1834.3L897.2,1834.0L907.4,1831.4L917.7,1834.0L919.4,1835.1L921.1,1836.8L926.2,1844.5L928.7,1849.9L931.7,1857.7L938.1,1878.4L947.0,1904.1L951.7,1916.2L956.8,1927.5L978.5,1997.8L983.1,2011.4L988.2,2024.4L992.9,2032.2L1000.6,2042.6L1004.4,2049.6L1012.1,2056.4L1015.5,2060.6L1022.7,2077.1L1032.5,2106.2L1038.4,2121.1L1041.8,2126.9L1044.8,2130.9L1049.5,2135.9L1054.6,2140.5L1062.7,2145.7L1071.6,2150.0L1077.1,2152.0L1088.6,2155.0L1094.5,2155.9L1105.2,2156.9L1140.5,2158.6L1191.1,2159.9L1224.7,2160.2L1254.9,2159.8L1310.6,2157.4L1362.9,2158.6L1373.9,2157.2L1388.4,2153.1L1396.0,2152.0L1422.4,2152.7L1453.4,2155.2L1461.9,2155.5L1464.5,2154.6L1468.7,2152.2L1476.0,2146.1L1484.5,2136.0L1489.2,2129.3L1491.7,2124.2L1499.4,2105.2L1505.3,2088.5L1515.9,2060.9L1518.5,2056.3L1520.6,2053.4L1523.6,2051.4L1525.7,2050.8L1527.9,2051.8L1531.3,2055.0L1533.8,2058.6L1536.4,2063.4L1548.3,2097.1L1556.3,2121.9L1560.6,2133.7L1565.3,2144.6L1570.4,2151.8L1574.6,2156.5L1578.9,2160.0L1594.6,2171.4L1602.3,2176.1L1609.5,2179.4L1620.6,2183.5L1632.0,2187.3L1642.2,2190.2" fill="none" stroke="#FF00FF" stroke-width="3.6" stroke-linejoin="round"/>
<path d="M247.5,1535.9L250.1,1518.8L253.9,1497.9L255.2,1493.8L255.6,1493.4L256.0,1493.7L256.4,1494.7L257.7,1501.0L261.1,1523.8L264.9,1555.9L268.8,1593.1L271.3,1610.1L272.6,1617.2L273.9,1622.0L274.7,1623.0L275.1,1622.7L276.4,1619.4L278.1,1611.0L279.4,1598.3L290.9,1422.8L296.4,1348.4L299.0,1328.6L301.5,1314.5L303.6,1307.1L309.6,1290.5L310.0,1289.9L310.4,1290.5L311.3,1295.2L313.4,1314.7L324.0,1386.5L327.9,1416.6L332.1,1458.9L337.2,1522.9L341.5,1563.8L346.2,1596.0L348.7,1609.1L350.8,1617.4L352.1,1620.1L353.4,1621.0L354.7,1621.1L356.8,1619.8L358.5,1616.4L362.3,1600.0L367.4,1573.2L372.1,1552.5L374.6,1544.6L388.7,1507.1L391.7,1502.5L394.2,1499.5L396.8,1497.5L399.7,1495.9L403.1,1495.0L419.7,1493.1L421.4,1493.0L422.3,1494.1L423.5,1499.3L426.5,1517.2L431.6,1539.7L438.0,1573.7L443.1,1597.3L446.5,1616.9L448.6,1636.2L452.5,1687.4L455.0,1715.8L462.7,1786.6L467.8,1823.1L477.1,1869.5L482.6,1889.5L490.7,1914.5L493.3,1920.4L501.4,1935.0L508.2,1950.7L520.1,1981.8L529.0,2010.6L541.8,2041.9L546.0,2050.8L549.8,2056.7L554.5,2061.6L559.2,2064.6L565.1,2066.7L582.6,2070.5L591.5,2071.6L600.0,2071.8L606.0,2071.3L610.2,2070.1L615.7,2067.4L623.4,2062.7L628.1,2059.0L632.8,2054.3L637.0,2049.2L640.8,2043.8L668.9,1988.3L674.9,1975.1L680.0,1962.5L689.7,1934.2L697.4,1913.9L700.8,1902.6L715.2,1848.5L731.8,1803.8L736.5,1789.9L739.9,1778.0L744.6,1758.6L748.0,1740.6L757.8,1672.4L761.6,1639.0L762.9,1631.5L763.7,1629.5L764.6,1629.4L765.8,1630.3L768.0,1633.8L768.8,1636.3L777.3,1685.1L782.4,1706.8L788.0,1734.4L791.8,1748.2L795.6,1758.4L800.7,1766.5L802.8,1767.9L807.9,1768.1L810.1,1767.1L811.8,1764.7L815.6,1754.7L818.6,1745.0L827.1,1706.7L834.7,1663.2L839.0,1642.5L843.7,1626.4L846.2,1622.3L847.1,1621.7L848.3,1621.4L850.0,1622.6L851.3,1625.4L853.9,1634.7L855.1,1641.0L858.1,1662.7L866.6,1744.2L870.5,1772.6L874.7,1798.4L881.5,1828.6L884.9,1840.4L885.8,1842.2L887.9,1844.9L890.4,1847.4L892.1,1848.4L897.7,1849.3L907.9,1848.4L917.2,1853.1L918.9,1854.4L920.6,1856.3L925.3,1863.5L928.3,1869.6L931.3,1877.4L941.5,1909.6L951.2,1937.5L971.2,1986.9L982.7,2013.7L987.0,2022.0L989.5,2025.9L993.3,2028.8L999.7,2031.5L1002.7,2033.5L1006.1,2037.1L1012.1,2046.6L1015.5,2053.6L1018.9,2063.7L1031.2,2105.4L1036.7,2121.2L1041.0,2128.8L1043.9,2132.9L1048.6,2138.0L1054.6,2143.1L1062.2,2147.6L1071.2,2151.6L1077.1,2153.7L1087.3,2156.0L1094.1,2157.1L1104.8,2158.0L1139.2,2159.6L1189.8,2160.9L1226.4,2161.2L1255.3,2160.8L1310.6,2158.5L1363.3,2159.8L1374.3,2158.7L1387.1,2155.8L1395.6,2154.7L1423.7,2155.2L1461.9,2157.4L1468.3,2155.1L1475.5,2150.3L1480.7,2145.6L1488.7,2136.9L1491.3,2133.0L1498.5,2119.0L1515.9,2082.9L1518.5,2079.3L1520.6,2077.2L1523.6,2075.8L1525.7,2075.4L1527.9,2076.3L1531.7,2079.3L1536.4,2085.8L1560.6,2142.4L1564.8,2150.5L1569.5,2156.1L1573.8,2160.0L1577.6,2162.7L1595.5,2173.9L1602.3,2177.7L1609.5,2180.7L1620.6,2184.5L1642.2,2190.8" fill="none" stroke="#808000" stroke-width="3.6" stroke-linejoin="round"/>
<path d="M247.5,1538.1L253.9,1498.8L255.2,1494.4L255.6,1494.0L256.0,1494.3L256.4,1495.3L257.7,1501.6L261.1,1524.7L264.9,1557.3L268.8,1595.1L271.3,1612.5L272.6,1620.0L273.9,1624.9L274.7,1626.0L275.1,1625.7L276.4,1622.3L278.1,1613.8L279.4,1600.6L290.9,1424.3L296.4,1348.6L299.0,1328.2L301.9,1311.8L304.1,1304.1L309.6,1287.8L310.0,1286.9L310.4,1286.9L311.3,1290.2L313.8,1310.2L322.8,1364.1L326.6,1391.0L331.7,1438.8L336.8,1500.4L341.5,1548.2L346.2,1583.5L349.1,1601.1L351.3,1610.8L353.0,1614.5L355.1,1616.9L356.4,1617.2L357.2,1616.8L358.5,1614.5L362.7,1596.9L367.4,1572.8L372.1,1552.2L374.2,1545.6L380.6,1528.9L387.4,1508.0L389.5,1503.7L392.1,1499.9L394.2,1497.5L396.8,1495.7L400.2,1494.1L403.6,1493.4L420.1,1492.1L421.4,1492.1L422.3,1493.2L423.5,1499.2L426.5,1519.5L432.0,1546.9L438.4,1581.8L443.1,1604.3L446.5,1624.7L448.6,1644.7L452.5,1697.9L455.0,1727.4L462.7,1800.7L467.8,1838.4L476.7,1883.4L482.2,1903.4L490.3,1927.3L493.3,1934.0L501.4,1948.7L508.2,1963.7L520.1,1992.8L526.9,2012.7L530.3,2021.1L541.8,2044.4L545.6,2051.0L547.7,2054.0L550.7,2057.2L554.1,2059.9L557.1,2061.6L560.5,2062.8L564.3,2063.6L586.8,2065.9L599.2,2065.5L605.1,2064.6L608.5,2063.5L613.2,2061.0L618.7,2057.1L624.2,2052.8L628.9,2048.2L633.6,2042.7L637.9,2036.7L640.8,2031.6L643.8,2025.3L668.5,1968.2L674.4,1952.8L680.0,1937.1L689.7,1905.1L698.7,1877.9L715.2,1809.1L731.4,1765.0L739.1,1741.2L743.7,1722.5L747.6,1702.9L757.8,1629.4L762.0,1591.4L763.3,1585.6L764.1,1585.1L765.4,1586.3L766.7,1588.8L768.8,1595.1L777.3,1652.5L782.4,1677.9L788.0,1710.4L791.4,1725.5L795.6,1740.4L800.7,1753.3L802.8,1756.8L807.9,1761.5L810.1,1762.2L811.8,1760.9L815.6,1753.3L819.0,1744.5L827.5,1713.1L837.7,1666.5L842.4,1651.0L844.1,1647.0L846.6,1643.9L847.9,1643.5L848.8,1643.8L850.5,1645.7L852.2,1650.5L854.3,1658.6L856.8,1673.4L866.2,1756.5L872.2,1796.8L874.7,1810.2L880.7,1834.8L884.9,1849.2L886.2,1851.7L888.3,1854.6L890.9,1857.4L892.6,1858.7L897.7,1860.8L907.4,1862.8L910.9,1865.0L918.9,1871.8L921.5,1875.2L924.5,1880.1L927.9,1887.1L931.3,1896.0L944.0,1936.4L952.9,1962.2L970.8,2008.7L986.5,2045.7L990.8,2053.2L1001.4,2065.4L1006.1,2072.2L1015.5,2084.2L1022.7,2098.4L1031.6,2119.2L1036.7,2129.3L1042.7,2136.8L1050.8,2143.2L1058.0,2147.4L1069.0,2152.0L1076.3,2154.4L1086.9,2156.7L1094.1,2157.8L1106.0,2158.8L1143.9,2160.8L1202.6,2162.4L1238.3,2162.7L1258.3,2162.3L1311.0,2160.1L1365.0,2161.5L1374.8,2160.9L1393.5,2158.4L1419.8,2157.9L1433.5,2158.0L1461.9,2159.0L1468.3,2157.1L1476.0,2152.7L1481.5,2148.3L1489.2,2140.8L1491.7,2137.3L1499.4,2124.3L1515.9,2093.5L1520.6,2087.9L1523.2,2086.5L1525.3,2086.1L1527.4,2086.8L1531.3,2089.5L1533.8,2092.2L1536.4,2095.8L1560.6,2146.5L1564.8,2153.7L1569.1,2158.3L1576.8,2164.0L1596.3,2175.3L1602.7,2178.6L1610.3,2181.6L1621.0,2185.2L1642.2,2191.1" fill="none" stroke="#000080" stroke-width="3.6" stroke-linejoin="round"/>
<path d="M247.5,1539.6L253.9,1499.5L255.2,1494.9L255.6,1494.4L256.0,1494.7L256.4,1495.7L257.7,1502.0L261.1,1525.3L264.9,1558.3L268.8,1596.4L271.7,1617.0L273.0,1624.0L274.3,1627.8L274.7,1628.1L275.1,1627.8L276.4,1624.4L278.1,1615.7L279.4,1602.3L290.9,1425.3L296.4,1348.6L299.0,1327.9L301.9,1311.0L304.1,1302.9L309.6,1285.9L310.4,1284.4L310.9,1285.0L313.4,1302.6L322.3,1352.1L326.6,1380.8L331.7,1428.2L337.2,1492.9L341.9,1541.3L346.6,1577.8L349.6,1596.8L351.7,1607.0L353.8,1612.0L355.5,1614.5L356.4,1615.1L357.2,1615.1L358.5,1613.2L362.7,1596.2L367.4,1572.6L372.1,1552.0L373.8,1546.6L380.2,1529.9L387.4,1506.8L389.5,1502.3L392.1,1498.5L394.2,1496.1L396.3,1494.7L399.7,1493.2L403.6,1492.4L419.7,1491.4L421.8,1491.7L423.5,1499.1L426.9,1523.4L438.0,1583.6L443.1,1609.0L446.5,1630.0L448.6,1650.5L452.5,1704.9L455.0,1735.1L462.7,1810.1L467.8,1848.5L476.7,1893.9L482.2,1913.7L490.3,1936.8L493.3,1943.4L501.4,1958.1L507.7,1971.7L520.1,2000.5L529.0,2023.6L534.5,2034.0L544.3,2050.1L546.9,2053.3L549.4,2055.7L555.4,2059.6L558.8,2060.8L563.0,2061.4L586.0,2062.1L598.7,2060.9L604.7,2059.6L608.1,2058.3L611.9,2056.0L617.0,2052.0L623.8,2046.1L628.5,2041.1L632.8,2035.6L636.6,2029.9L640.4,2023.1L643.0,2017.5L668.5,1954.8L679.5,1923.5L689.7,1889.1L698.7,1861.4L715.2,1791.2L731.4,1745.7L739.5,1719.7L744.2,1700.3L747.6,1682.2L757.8,1606.4L761.6,1570.2L762.9,1562.4L763.7,1560.6L764.6,1561.0L765.8,1563.1L768.0,1568.6L768.8,1572.1L776.9,1631.4L782.0,1658.9L789.2,1703.1L795.2,1728.4L799.4,1741.9L802.0,1748.5L807.5,1757.0L808.8,1758.4L810.1,1759.2L811.3,1759.0L812.2,1758.1L815.6,1752.5L819.4,1744.0L826.7,1721.4L836.9,1681.8L841.5,1667.4L843.7,1662.4L846.2,1659.2L847.9,1658.7L850.0,1660.5L851.7,1664.7L854.3,1674.0L856.8,1688.3L866.2,1768.0L872.2,1806.2L874.7,1818.8L880.7,1842.0L884.9,1855.7L887.5,1860.3L891.7,1865.6L896.8,1869.1L908.3,1874.4L913.8,1880.3L918.9,1885.1L923.2,1891.5L927.4,1899.9L930.8,1908.7L947.8,1962.2L960.2,1996.5L971.2,2024.5L987.8,2062.3L992.5,2070.1L1001.4,2082.1L1006.1,2089.3L1009.9,2093.1L1015.5,2097.6L1021.4,2105.1L1026.1,2112.5L1033.7,2126.5L1038.0,2132.9L1042.2,2138.0L1047.8,2142.7L1054.2,2146.7L1061.4,2150.0L1072.0,2154.0L1079.7,2156.0L1089.4,2157.8L1098.8,2158.9L1135.8,2161.0L1197.5,2162.8L1237.8,2163.2L1258.3,2162.9L1308.9,2160.8L1322.5,2160.8L1364.1,2162.2L1374.8,2161.8L1393.5,2159.8L1422.0,2159.1L1436.9,2159.2L1461.9,2160.0L1468.3,2158.4L1475.5,2154.9L1480.7,2151.4L1488.7,2144.7L1491.7,2141.3L1498.9,2130.9L1515.9,2104.1L1520.6,2099.3L1523.2,2098.1L1525.3,2097.9L1527.9,2098.7L1531.7,2101.2L1536.4,2106.4L1560.6,2150.6L1564.4,2156.3L1568.7,2160.5L1575.9,2165.3L1603.1,2179.5L1621.4,2185.8L1642.2,2191.3" fill="none" stroke="#800000" stroke-width="3.6" stroke-linejoin="round"/>
<path d="M247.5,1541.4L253.9,1500.3L255.2,1495.4L255.6,1494.9L256.0,1495.1L256.4,1496.1L257.7,1502.5L261.1,1526.0L264.9,1559.5L268.8,1598.0L271.7,1619.1L273.0,1626.3L274.3,1630.2L274.7,1630.5L275.1,1630.3L276.4,1626.8L278.1,1618.0L279.4,1604.2L290.4,1432.9L296.4,1348.7L299.0,1327.6L301.9,1310.2L305.8,1295.7L310.0,1282.2L310.4,1281.4L310.9,1281.4L313.4,1296.6L321.9,1338.6L327.0,1371.9L332.1,1419.8L342.3,1532.4L348.7,1583.0L350.4,1594.3L352.1,1602.3L354.2,1608.6L355.9,1612.0L356.8,1612.9L357.6,1612.8L358.9,1610.5L363.2,1593.4L372.1,1551.7L379.7,1530.9L387.8,1504.0L390.4,1499.2L392.5,1496.2L394.6,1494.1L400.6,1491.5L404.0,1491.0L420.1,1490.6L421.8,1490.8L423.5,1499.0L427.4,1528.1L437.6,1586.5L443.1,1615.1L446.5,1636.9L448.6,1658.0L452.5,1714.2L455.0,1745.3L462.7,1822.6L465.2,1844.3L467.8,1862.1L476.3,1906.1L481.8,1926.1L489.9,1948.4L492.9,1954.9L500.9,1969.7L507.3,1982.7L527.7,2028.2L533.7,2038.0L542.2,2049.1L546.9,2053.8L552.0,2056.8L556.2,2058.4L560.5,2058.9L583.0,2057.4L596.6,2055.3L602.6,2053.7L607.2,2051.8L611.1,2049.2L615.3,2045.5L623.0,2037.9L627.7,2032.4L631.9,2026.5L635.7,2020.2L639.6,2012.9L642.1,2007.1L668.0,1936.6L679.1,1902.4L689.7,1863.8L698.7,1834.1L715.2,1759.0L718.2,1749.0L731.8,1708.0L739.9,1679.6L744.2,1660.8L747.6,1641.5L757.8,1559.9L762.0,1517.4L762.9,1512.4L763.7,1510.6L765.0,1511.8L766.3,1514.8L768.8,1524.7L776.9,1592.6L782.4,1626.7L788.0,1667.2L790.9,1684.5L795.2,1705.5L800.7,1728.7L802.8,1735.9L807.9,1749.0L810.1,1752.7L811.8,1753.6L814.8,1751.5L818.2,1747.8L820.3,1744.6L827.5,1730.5L838.1,1705.0L842.4,1696.9L844.5,1694.1L846.6,1692.7L848.8,1693.4L850.5,1695.4L852.2,1699.6L854.3,1706.5L856.8,1718.8L865.4,1783.7L868.3,1802.7L871.3,1818.6L875.6,1836.6L881.5,1856.6L884.9,1865.9L888.7,1872.5L893.0,1877.6L898.1,1881.7L907.4,1887.4L910.9,1890.8L913.8,1895.1L919.8,1902.0L925.3,1911.8L928.3,1918.4L931.3,1926.6L946.6,1975.5L957.2,2007.1L970.0,2039.1L986.1,2074.9L991.2,2084.8L1006.1,2108.3L1010.4,2110.0L1016.7,2110.7L1020.1,2112.1L1023.5,2114.2L1027.4,2118.0L1037.6,2131.4L1041.4,2135.6L1044.8,2138.5L1055.4,2145.4L1064.4,2149.4L1075.0,2153.2L1092.0,2156.8L1113.7,2158.5L1161.3,2160.3L1229.3,2161.3L1255.7,2161.1L1311.0,2159.2L1364.6,2160.8L1374.3,2160.2L1387.1,2158.2L1395.2,2157.5L1427.9,2158.1L1461.9,2159.9L1467.9,2158.7L1474.3,2156.0L1479.0,2153.4L1487.0,2147.8L1491.3,2144.1L1504.9,2127.9L1515.5,2116.3L1520.2,2113.3L1525.3,2112.9L1527.9,2113.7L1531.7,2115.9L1535.9,2119.8L1560.6,2156.3L1564.0,2160.4L1567.8,2163.5L1574.2,2167.1L1604.4,2181.0L1622.3,2186.7L1642.2,2191.8" fill="none" stroke="#FF0080" stroke-width="3.6" stroke-linejoin="round"/>
<path d="M247.5,1542.5L253.9,1500.7L255.2,1495.7L255.6,1495.1L256.0,1495.4L256.4,1496.4L257.7,1502.8L261.1,1526.4L264.9,1560.2L268.8,1599.0L271.7,1620.4L273.0,1627.7L274.3,1631.7L274.7,1632.0L275.1,1631.7L276.4,1628.2L278.1,1619.4L279.4,1605.4L290.4,1433.6L296.4,1348.8L299.0,1327.4L301.9,1309.7L305.3,1296.0L310.0,1280.7L310.9,1279.3L311.7,1282.4L313.4,1293.1L321.1,1327.7L326.6,1361.6L332.1,1412.3L340.6,1508.1L343.6,1536.9L350.0,1587.4L351.7,1597.2L353.8,1604.9L355.5,1609.6L356.8,1611.5L357.6,1611.8L358.1,1611.4L358.9,1609.6L363.2,1592.9L372.1,1551.5L379.7,1530.8L387.8,1503.1L390.0,1498.9L392.1,1495.8L394.2,1493.5L396.3,1492.3L400.2,1490.9L404.0,1490.3L421.4,1490.1L421.8,1490.4L423.1,1495.9L426.1,1520.8L428.2,1534.6L437.2,1586.7L443.1,1618.2L446.5,1640.4L448.6,1661.9L454.6,1745.5L458.4,1787.7L462.7,1828.8L465.2,1850.9L467.8,1868.9L476.3,1912.9L481.8,1932.7L485.6,1943.6L489.9,1954.2L493.3,1961.4L500.9,1975.2L507.7,1988.7L526.9,2029.6L531.6,2037.3L537.5,2044.8L544.7,2052.4L547.3,2054.3L549.8,2055.5L556.6,2057.9L563.4,2058.0L583.4,2055.9L591.5,2054.7L600.4,2052.6L607.2,2050.0L611.1,2047.3L615.3,2043.5L623.0,2035.6L627.7,2030.1L631.9,2024.1L635.7,2017.7L639.6,2010.3L642.1,2004.3L668.5,1931.1L679.5,1896.0L689.7,1858.1L698.7,1828.1L715.2,1751.8L718.2,1741.6L731.4,1700.8L739.9,1670.3L744.2,1651.1L747.6,1631.3L757.8,1548.0L762.0,1504.6L762.9,1499.4L763.7,1497.5L764.6,1498.2L765.8,1500.7L768.0,1507.4L768.8,1511.5L776.9,1579.9L782.0,1611.3L787.5,1652.8L790.9,1673.4L795.2,1695.3L801.1,1722.4L803.3,1730.2L808.8,1746.6L810.5,1749.8L811.8,1750.8L813.9,1750.3L816.9,1748.9L820.7,1746.0L832.6,1733.0L838.6,1725.2L842.8,1721.3L844.5,1720.4L846.2,1720.0L848.8,1721.6L850.5,1723.5L854.3,1733.4L857.3,1746.2L864.9,1799.7L870.9,1831.3L875.6,1848.8L881.1,1865.0L884.5,1873.6L888.7,1881.4L893.4,1887.6L898.5,1892.4L907.4,1899.3L910.9,1903.1L914.3,1908.6L919.8,1915.4L925.3,1925.4L928.7,1933.1L931.7,1941.4L946.6,1988.8L956.8,2019.9L968.3,2046.8L989.1,2088.3L994.6,2097.2L1011.2,2120.3L1035.9,2144.9L1041.4,2148.3L1047.8,2150.7L1076.7,2158.0L1097.5,2160.5L1129.0,2162.3L1176.6,2163.8L1238.7,2164.9L1257.4,2164.6L1310.6,2162.5L1374.3,2164.3L1402.4,2163.9L1435.2,2162.3L1462.4,2162.8L1467.9,2162.3L1475.1,2160.4L1486.6,2155.6L1490.9,2153.3L1496.0,2149.8L1516.8,2134.4L1520.6,2132.5L1524.5,2132.0L1527.0,2132.5L1530.8,2134.0L1535.5,2137.0L1561.0,2163.4L1563.6,2165.6L1566.5,2167.3L1571.7,2169.5L1583.6,2173.5L1599.7,2180.3L1606.5,2182.8L1624.0,2187.9L1642.2,2192.2" fill="none" stroke="#008000" stroke-width="3.6" stroke-linejoin="round"/>
<path d="M247.5,1543.5L254.3,1498.9L255.6,1495.4L256.4,1496.7L257.7,1503.1L261.1,1526.9L264.9,1561.0L268.8,1599.9L271.7,1621.6L273.0,1629.1L274.3,1633.2L274.7,1633.5L275.1,1633.2L276.4,1629.6L278.1,1620.7L279.0,1612.5L290.4,1434.3L296.4,1348.8L299.0,1327.2L302.4,1307.1L304.9,1296.6L310.0,1279.3L310.9,1277.4L311.3,1277.9L313.0,1288.0L321.5,1324.1L324.5,1340.8L327.0,1358.2L332.1,1405.5L341.0,1505.7L344.5,1538.5L350.4,1586.5L351.7,1594.1L354.7,1605.5L355.9,1609.0L357.2,1610.7L358.1,1610.5L359.3,1607.7L363.6,1590.7L372.1,1551.4L378.9,1533.3L384.0,1516.6L387.4,1503.7L389.5,1498.8L392.1,1495.0L394.2,1492.8L399.7,1490.4L404.0,1489.7L421.4,1489.7L421.8,1490.0L423.1,1495.7L426.5,1524.8L428.6,1538.5L436.7,1586.4L443.1,1620.7L446.5,1643.2L448.6,1664.9L454.6,1749.4L458.4,1792.1L462.7,1833.6L465.2,1855.9L467.8,1874.0L476.3,1918.1L481.8,1937.6L489.5,1957.7L493.3,1965.7L500.9,1979.5L508.2,1993.5L526.4,2031.2L530.3,2037.5L535.4,2043.9L543.0,2051.4L547.7,2054.6L555.8,2057.3L562.2,2057.4L591.1,2053.4L600.0,2051.2L606.8,2048.5L610.6,2045.9L614.9,2042.0L623.0,2033.5L627.7,2027.8L631.9,2021.7L635.7,2015.3L639.6,2007.7L642.1,2001.6L668.5,1927.7L680.4,1889.4L689.7,1854.4L698.7,1824.4L715.7,1746.6L731.4,1694.5L739.5,1664.3L744.2,1642.5L747.6,1622.0L757.8,1535.8L762.0,1490.8L762.9,1485.4L763.7,1483.4L765.0,1484.5L766.3,1487.6L768.8,1497.6L776.9,1568.0L782.0,1600.3L787.5,1643.2L791.4,1667.1L801.6,1718.7L806.7,1737.3L809.2,1745.0L810.9,1748.2L812.2,1749.2L815.2,1749.0L819.4,1748.0L825.8,1743.9L833.0,1740.8L839.0,1736.3L844.5,1734.1L845.8,1734.0L847.1,1734.7L850.5,1738.9L854.3,1749.6L857.3,1762.3L864.5,1811.6L870.0,1840.3L875.1,1858.8L882.4,1878.3L887.9,1890.2L894.3,1901.0L907.4,1918.1L913.8,1928.2L919.4,1933.6L921.9,1936.7L927.9,1946.4L933.0,1958.5L956.4,2022.8L964.0,2042.1L969.5,2054.7L987.8,2092.8L993.8,2104.0L1009.9,2130.3L1012.9,2134.0L1017.6,2138.3L1032.5,2148.7L1038.0,2151.6L1045.2,2153.3L1059.7,2155.5L1080.1,2159.4L1103.9,2161.6L1132.8,2163.0L1172.4,2164.2L1231.5,2165.3L1255.3,2165.2L1311.4,2163.1L1393.5,2165.4L1405.0,2165.1L1436.0,2163.3L1465.8,2163.7L1475.5,2162.0L1483.2,2159.6L1494.3,2155.2L1517.2,2144.0L1520.6,2142.9L1524.0,2142.6L1529.1,2143.8L1534.7,2146.1L1561.4,2167.2L1564.8,2169.2L1569.9,2170.9L1583.1,2174.5L1601.4,2181.6L1609.9,2184.4L1626.1,2188.7L1642.2,2192.4" fill="none" stroke="#0000A0" stroke-width="4.3" stroke-linejoin="round"/>
<line x1="247.50" y1="48.10" x2="247.50" y2="1040.70" stroke="#000" stroke-width="3.7"/>
<line x1="226.50" y1="1040.70" x2="1644.09" y2="1040.70" stroke="#000" stroke-width="3.7"/>
<line x1="237.00" y1="930.50" x2="247.50" y2="930.50" stroke="#000" stroke-width="3.7"/>
<line x1="226.50" y1="820.30" x2="247.50" y2="820.30" stroke="#000" stroke-width="3.7"/>
<line x1="237.00" y1="710.10" x2="247.50" y2="710.10" stroke="#000" stroke-width="3.7"/>
<line x1="226.50" y1="599.90" x2="247.50" y2="599.90" stroke="#000" stroke-width="3.7"/>
<line x1="237.00" y1="489.70" x2="247.50" y2="489.70" stroke="#000" stroke-width="3.7"/>
<line x1="226.50" y1="379.50" x2="247.50" y2="379.50" stroke="#000" stroke-width="3.7"/>
<line x1="237.00" y1="269.30" x2="247.50" y2="269.30" stroke="#000" stroke-width="3.7"/>
<line x1="226.50" y1="159.10" x2="247.50" y2="159.10" stroke="#000" stroke-width="3.7"/>
<line x1="237.00" y1="48.90" x2="247.50" y2="48.90" stroke="#000" stroke-width="3.7"/>
<line x1="281.52" y1="1040.70" x2="281.52" y2="1050.70" stroke="#000" stroke-width="3.7"/>
<line x1="366.56" y1="1040.70" x2="366.56" y2="1060.70" stroke="#000" stroke-width="3.7"/>
<line x1="451.61" y1="1040.70" x2="451.61" y2="1050.70" stroke="#000" stroke-width="3.7"/>
<line x1="536.65" y1="1040.70" x2="536.65" y2="1060.70" stroke="#000" stroke-width="3.7"/>
<line x1="621.70" y1="1040.70" x2="621.70" y2="1050.70" stroke="#000" stroke-width="3.7"/>
<line x1="706.74" y1="1040.70" x2="706.74" y2="1060.70" stroke="#000" stroke-width="3.7"/>
<line x1="791.79" y1="1040.70" x2="791.79" y2="1050.70" stroke="#000" stroke-width="3.7"/>
<line x1="876.83" y1="1040.70" x2="876.83" y2="1060.70" stroke="#000" stroke-width="3.7"/>
<line x1="961.88" y1="1040.70" x2="961.88" y2="1050.70" stroke="#000" stroke-width="3.7"/>
<line x1="1046.92" y1="1040.70" x2="1046.92" y2="1060.70" stroke="#000" stroke-width="3.7"/>
<line x1="1131.97" y1="1040.70" x2="1131.97" y2="1050.70" stroke="#000" stroke-width="3.7"/>
<line x1="1217.01" y1="1040.70" x2="1217.01" y2="1060.70" stroke="#000" stroke-width="3.7"/>
<line x1="1302.06" y1="1040.70" x2="1302.06" y2="1050.70" stroke="#000" stroke-width="3.7"/>
<line x1="1387.10" y1="1040.70" x2="1387.10" y2="1060.70" stroke="#000" stroke-width="3.7"/>
<line x1="1472.15" y1="1040.70" x2="1472.15" y2="1050.70" stroke="#000" stroke-width="3.7"/>
<line x1="1557.19" y1="1040.70" x2="1557.19" y2="1060.70" stroke="#000" stroke-width="3.7"/>
<line x1="1642.24" y1="1040.70" x2="1642.24" y2="1050.70" stroke="#000" stroke-width="3.7"/>
<text x="212" y="1056.90" text-anchor="end" class="tl">0.0</text>
<text x="212" y="836.50" text-anchor="end" class="tl">0.5</text>
<text x="212" y="616.10" text-anchor="end" class="tl">1.0</text>
<rect x="143.22" y="610.90" width="10.15" height="6.20" fill="#fff"/>
<rect x="157.86" y="610.90" width="10.05" height="6.20" fill="#fff"/>
<text x="212" y="395.70" text-anchor="end" class="tl">1.5</text>
<rect x="143.22" y="390.50" width="10.15" height="6.20" fill="#fff"/>
<rect x="157.86" y="390.50" width="10.05" height="6.20" fill="#fff"/>
<text x="212" y="175.30" text-anchor="end" class="tl">2.0</text>
<text x="366.56" y="1114.20" text-anchor="middle" class="tl">300</text>
<text x="536.65" y="1114.20" text-anchor="middle" class="tl">400</text>
<text x="706.74" y="1114.20" text-anchor="middle" class="tl">500</text>
<text x="876.83" y="1114.20" text-anchor="middle" class="tl">600</text>
<text x="1046.92" y="1114.20" text-anchor="middle" class="tl">700</text>
<text x="1217.01" y="1114.20" text-anchor="middle" class="tl">800</text>
<text x="1387.10" y="1114.20" text-anchor="middle" class="tl">900</text>
<text x="1557.19" y="1114.20" text-anchor="middle" class="tl">1000</text>
<rect x="1502.72" y="1109.00" width="10.15" height="6.20" fill="#fff"/>
<rect x="1517.38" y="1109.00" width="10.05" height="6.20" fill="#fff"/>
<text transform="translate(870.7,1199.90) scale(1.165,0.86)" class="lam">λ</text>
<text x="912" y="1199.70" class="at">/</text>
<text x="942.5" y="1199.70" class="at">nm</text>
<line x1="247.50" y1="1237.60" x2="247.50" y2="2229.60" stroke="#000" stroke-width="3.7"/>
<line x1="226.50" y1="2229.60" x2="1644.09" y2="2229.60" stroke="#000" stroke-width="3.7"/>
<line x1="237.00" y1="2158.80" x2="247.50" y2="2158.80" stroke="#000" stroke-width="3.7"/>
<line x1="226.50" y1="2088.00" x2="247.50" y2="2088.00" stroke="#000" stroke-width="3.7"/>
<line x1="237.00" y1="2017.20" x2="247.50" y2="2017.20" stroke="#000" stroke-width="3.7"/>
<line x1="226.50" y1="1946.40" x2="247.50" y2="1946.40" stroke="#000" stroke-width="3.7"/>
<line x1="237.00" y1="1875.60" x2="247.50" y2="1875.60" stroke="#000" stroke-width="3.7"/>
<line x1="226.50" y1="1804.80" x2="247.50" y2="1804.80" stroke="#000" stroke-width="3.7"/>
<line x1="237.00" y1="1734.00" x2="247.50" y2="1734.00" stroke="#000" stroke-width="3.7"/>
<line x1="226.50" y1="1663.20" x2="247.50" y2="1663.20" stroke="#000" stroke-width="3.7"/>
<line x1="237.00" y1="1592.40" x2="247.50" y2="1592.40" stroke="#000" stroke-width="3.7"/>
<line x1="226.50" y1="1521.60" x2="247.50" y2="1521.60" stroke="#000" stroke-width="3.7"/>
<line x1="237.00" y1="1450.80" x2="247.50" y2="1450.80" stroke="#000" stroke-width="3.7"/>
<line x1="226.50" y1="1380.00" x2="247.50" y2="1380.00" stroke="#000" stroke-width="3.7"/>
<line x1="237.00" y1="1309.20" x2="247.50" y2="1309.20" stroke="#000" stroke-width="3.7"/>
<line x1="226.50" y1="1238.40" x2="247.50" y2="1238.40" stroke="#000" stroke-width="3.7"/>
<line x1="281.52" y1="2229.60" x2="281.52" y2="2239.60" stroke="#000" stroke-width="3.7"/>
<line x1="366.56" y1="2229.60" x2="366.56" y2="2249.60" stroke="#000" stroke-width="3.7"/>
<line x1="451.61" y1="2229.60" x2="451.61" y2="2239.60" stroke="#000" stroke-width="3.7"/>
<line x1="536.65" y1="2229.60" x2="536.65" y2="2249.60" stroke="#000" stroke-width="3.7"/>
<line x1="621.70" y1="2229.60" x2="621.70" y2="2239.60" stroke="#000" stroke-width="3.7"/>
<line x1="706.74" y1="2229.60" x2="706.74" y2="2249.60" stroke="#000" stroke-width="3.7"/>
<line x1="791.79" y1="2229.60" x2="791.79" y2="2239.60" stroke="#000" stroke-width="3.7"/>
<line x1="876.83" y1="2229.60" x2="876.83" y2="2249.60" stroke="#000" stroke-width="3.7"/>
<line x1="961.88" y1="2229.60" x2="961.88" y2="2239.60" stroke="#000" stroke-width="3.7"/>
<line x1="1046.92" y1="2229.60" x2="1046.92" y2="2249.60" stroke="#000" stroke-width="3.7"/>
<line x1="1131.97" y1="2229.60" x2="1131.97" y2="2239.60" stroke="#000" stroke-width="3.7"/>
<line x1="1217.01" y1="2229.60" x2="1217.01" y2="2249.60" stroke="#000" stroke-width="3.7"/>
<line x1="1302.06" y1="2229.60" x2="1302.06" y2="2239.60" stroke="#000" stroke-width="3.7"/>
<line x1="1387.10" y1="2229.60" x2="1387.10" y2="2249.60" stroke="#000" stroke-width="3.7"/>
<line x1="1472.15" y1="2229.60" x2="1472.15" y2="2239.60" stroke="#000" stroke-width="3.7"/>
<line x1="1557.19" y1="2229.60" x2="1557.19" y2="2249.60" stroke="#000" stroke-width="3.7"/>
<line x1="1642.24" y1="2229.60" x2="1642.24" y2="2239.60" stroke="#000" stroke-width="3.7"/>
<text x="212" y="2245.80" text-anchor="end" class="tl">0.0</text>
<text x="212" y="2104.20" text-anchor="end" class="tl">0.2</text>
<text x="212" y="1962.60" text-anchor="end" class="tl">0.4</text>
<text x="212" y="1821.00" text-anchor="end" class="tl">0.6</text>
<text x="212" y="1679.40" text-anchor="end" class="tl">0.8</text>
<text x="212" y="1537.80" text-anchor="end" class="tl">1.0</text>
<rect x="143.22" y="1532.60" width="10.15" height="6.20" fill="#fff"/>
<rect x="157.86" y="1532.60" width="10.05" height="6.20" fill="#fff"/>
<text x="212" y="1396.20" text-anchor="end" class="tl">1.2</text>
<rect x="143.22" y="1391.00" width="10.15" height="6.20" fill="#fff"/>
<rect x="157.86" y="1391.00" width="10.05" height="6.20" fill="#fff"/>
<text x="212" y="1254.60" text-anchor="end" class="tl">1.4</text>
<rect x="143.22" y="1249.40" width="10.15" height="6.20" fill="#fff"/>
<rect x="157.86" y="1249.40" width="10.05" height="6.20" fill="#fff"/>
<text x="366.56" y="2303.10" text-anchor="middle" class="tl">300</text>
<text x="536.65" y="2303.10" text-anchor="middle" class="tl">400</text>
<text x="706.74" y="2303.10" text-anchor="middle" class="tl">500</text>
<text x="876.83" y="2303.10" text-anchor="middle" class="tl">600</text>
<text x="1046.92" y="2303.10" text-anchor="middle" class="tl">700</text>
<text x="1217.01" y="2303.10" text-anchor="middle" class="tl">800</text>
<text x="1387.10" y="2303.10" text-anchor="middle" class="tl">900</text>
<text x="1557.19" y="2303.10" text-anchor="middle" class="tl">1000</text>
<rect x="1502.72" y="2297.90" width="10.15" height="6.20" fill="#fff"/>
<rect x="1517.38" y="2297.90" width="10.05" height="6.20" fill="#fff"/>
<text transform="translate(870.7,2388.80) scale(1.165,0.86)" class="lam">λ</text>
<text x="912" y="2388.60" class="at">/</text>
<text x="942.5" y="2388.60" class="at">nm</text>
<line x1="424.60" y1="327.10" x2="424.60" y2="387.70" stroke="#000" stroke-width="4"/>
<path d="M417.20,387.70 L432.00,387.70 L424.60,414.00 Z" fill="#000" stroke="#000" stroke-width="2" stroke-linejoin="round"/>
<line x1="849.90" y1="468.80" x2="849.90" y2="419.90" stroke="#000" stroke-width="4"/>
<path d="M842.50,419.90 L857.30,419.90 L849.90,393.60 Z" fill="#000" stroke="#000" stroke-width="2" stroke-linejoin="round"/>
<line x1="1015.80" y1="42.70" x2="1015.80" y2="92.30" stroke="#000" stroke-width="4"/>
<path d="M1008.40,92.30 L1023.20,92.30 L1015.80,118.60 Z" fill="#000" stroke="#000" stroke-width="2" stroke-linejoin="round"/>
<line x1="1526.90" y1="800.40" x2="1526.90" y2="765.10" stroke="#000" stroke-width="4"/>
<path d="M1519.50,765.10 L1534.30,765.10 L1526.90,738.80 Z" fill="#000" stroke="#000" stroke-width="2" stroke-linejoin="round"/>
<line x1="765.40" y1="1454.00" x2="765.40" y2="1389.90" stroke="#000" stroke-width="4"/>
<path d="M758.00,1389.90 L772.80,1389.90 L765.40,1363.60 Z" fill="#000" stroke="#000" stroke-width="2" stroke-linejoin="round"/>
<line x1="849.80" y1="1224.50" x2="849.80" y2="1288.70" stroke="#000" stroke-width="4"/>
<path d="M842.40,1288.70 L857.20,1288.70 L849.80,1315.00 Z" fill="#000" stroke="#000" stroke-width="2" stroke-linejoin="round"/>
<line x1="963.00" y1="1577.10" x2="963.00" y2="1641.90" stroke="#000" stroke-width="4"/>
<path d="M955.60,1641.90 L970.40,1641.90 L963.00,1668.20 Z" fill="#000" stroke="#000" stroke-width="2" stroke-linejoin="round"/>
<line x1="1525.40" y1="1795.10" x2="1525.40" y2="1869.90" stroke="#000" stroke-width="4"/>
<path d="M1518.00,1869.90 L1532.80,1869.90 L1525.40,1896.20 Z" fill="#000" stroke="#000" stroke-width="2" stroke-linejoin="round"/>
<text transform="translate(36.3,67.7) scale(0.815,1.035)" class="pl">(</text><text transform="translate(55.8,69.7) scale(0.8,1.029)" class="pl">a</text><text transform="translate(90.4,67.7) scale(0.815,1.035)" class="pl">)</text>
<text transform="translate(37.5,1265.6) scale(0.8,1.035)" class="pl">(</text><text transform="translate(57.0,1267.6) scale(0.993,1.063)" class="pl">b</text><text transform="translate(94.3,1265.6) scale(0.8,1.035)" class="pl">)</text>
<text transform="translate(75,535.4) rotate(-90) scale(0.93,1.039)" class="yt">A</text>
<text transform="translate(75,1726.4) rotate(-90) scale(0.93,1.039)" class="yt">A</text>
</svg>
</body></html>
